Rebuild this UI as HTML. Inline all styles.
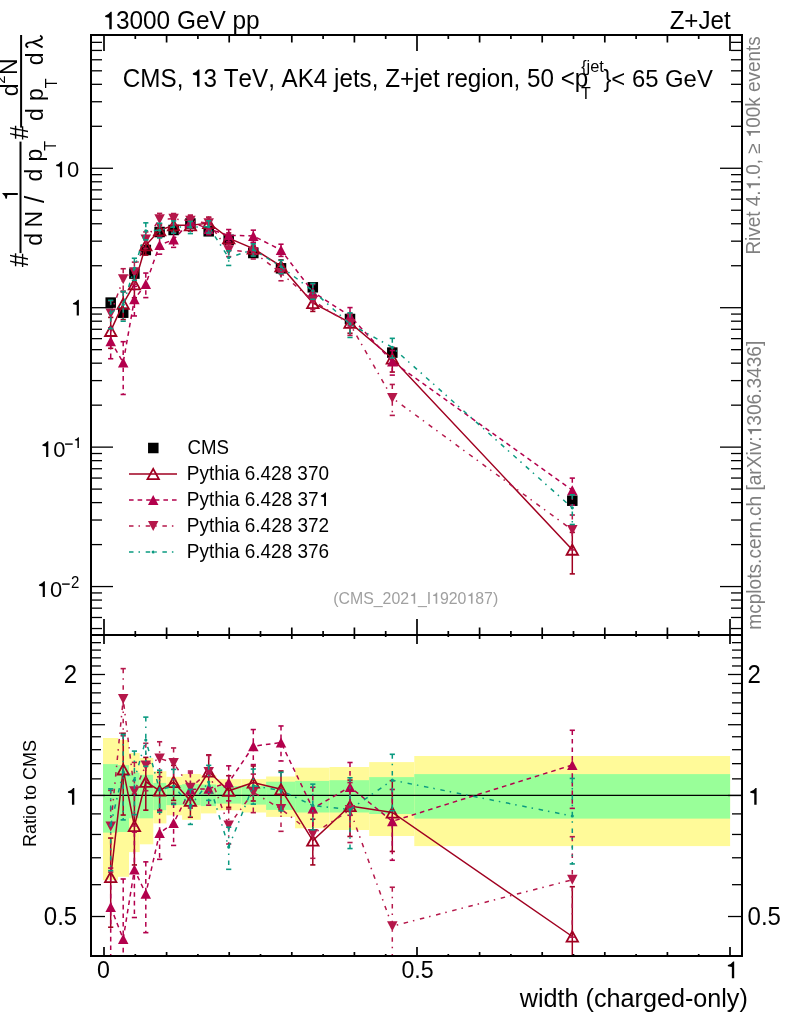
<!DOCTYPE html>
<html><head><meta charset="utf-8"><style>
html,body{margin:0;padding:0;background:#fff;}
svg{display:block;will-change:transform;font-family:"Liberation Sans",sans-serif;font-kerning:none;font-feature-settings:"kern" 0,"liga" 0;}
</style></head><body>
<svg width="786" height="1024" viewBox="0 0 786 1024">
<rect width="786" height="1024" fill="#fff"/>
<rect x="103.00" y="738.00" width="15.00" height="142.20" fill="#fffa99"/>
<rect x="103.00" y="764.10" width="15.00" height="68.50" fill="#99ff99"/>
<rect x="118.00" y="740.00" width="11.00" height="136.80" fill="#fffa99"/>
<rect x="118.00" y="765.10" width="11.00" height="66.90" fill="#99ff99"/>
<rect x="129.00" y="752.90" width="10.70" height="99.20" fill="#fffa99"/>
<rect x="129.00" y="772.70" width="10.70" height="45.60" fill="#99ff99"/>
<rect x="139.70" y="758.00" width="13.60" height="86.30" fill="#fffa99"/>
<rect x="139.70" y="774.80" width="13.60" height="43.50" fill="#99ff99"/>
<rect x="153.30" y="771.20" width="13.10" height="52.20" fill="#fffa99"/>
<rect x="153.30" y="782.90" width="13.10" height="27.30" fill="#99ff99"/>
<rect x="166.40" y="776.80" width="15.70" height="38.50" fill="#fffa99"/>
<rect x="166.40" y="785.00" width="15.70" height="20.10" fill="#99ff99"/>
<rect x="182.10" y="774.00" width="18.70" height="45.80" fill="#fffa99"/>
<rect x="182.10" y="784.20" width="18.70" height="21.00" fill="#99ff99"/>
<rect x="200.80" y="775.30" width="15.60" height="38.10" fill="#fffa99"/>
<rect x="200.80" y="784.50" width="15.60" height="21.60" fill="#99ff99"/>
<rect x="216.40" y="779.10" width="25.10" height="31.20" fill="#fffa99"/>
<rect x="216.40" y="786.10" width="25.10" height="17.50" fill="#99ff99"/>
<rect x="241.50" y="779.10" width="24.60" height="33.40" fill="#fffa99"/>
<rect x="241.50" y="786.10" width="24.60" height="18.50" fill="#99ff99"/>
<rect x="266.10" y="776.50" width="29.00" height="40.40" fill="#fffa99"/>
<rect x="266.10" y="781.70" width="29.00" height="28.20" fill="#99ff99"/>
<rect x="295.10" y="767.70" width="34.40" height="60.60" fill="#fffa99"/>
<rect x="295.10" y="780.90" width="34.40" height="31.60" fill="#99ff99"/>
<rect x="329.50" y="767.00" width="39.70" height="63.00" fill="#fffa99"/>
<rect x="329.50" y="780.20" width="39.70" height="32.30" fill="#99ff99"/>
<rect x="369.20" y="762.10" width="45.10" height="73.90" fill="#fffa99"/>
<rect x="369.20" y="777.10" width="45.10" height="36.90" fill="#99ff99"/>
<rect x="414.30" y="756.00" width="315.80" height="90.10" fill="#fffa99"/>
<rect x="414.30" y="774.10" width="315.80" height="44.50" fill="#99ff99"/>
<line x1="91" y1="795.4" x2="742" y2="795.4" stroke="#000" stroke-width="1.4"/>
<defs><clipPath id="cm"><rect x="92" y="36" width="649" height="598"/></clipPath><clipPath id="cr"><rect x="92" y="636" width="649" height="319"/></clipPath></defs>
<g clip-path="url(#cr)">
<polyline points="110.70,877.00 123.20,769.40 134.40,826.00 145.80,781.80 159.60,790.60 173.60,782.00 190.40,800.80 208.70,771.50 228.70,790.80 253.30,782.60 281.00,789.20 312.80,840.60 350.00,806.00 392.30,812.50 572.30,936.50" fill="none" stroke="#a00020" stroke-width="1.5" />
<line x1="110.70" y1="838.04" x2="110.70" y2="927.23" stroke="#a00020" stroke-width="1.5" />
<line x1="108.10" y1="838.04" x2="113.30" y2="838.04" stroke="#a00020" stroke-width="1.6"/>
<line x1="108.10" y1="927.23" x2="113.30" y2="927.23" stroke="#a00020" stroke-width="1.6"/>
<line x1="123.20" y1="733.26" x2="123.20" y2="815.03" stroke="#a00020" stroke-width="1.5" />
<line x1="120.60" y1="733.26" x2="125.80" y2="733.26" stroke="#a00020" stroke-width="1.6"/>
<line x1="120.60" y1="815.03" x2="125.80" y2="815.03" stroke="#a00020" stroke-width="1.6"/>
<line x1="134.40" y1="794.17" x2="134.40" y2="864.96" stroke="#a00020" stroke-width="1.5" />
<line x1="131.80" y1="794.17" x2="137.00" y2="794.17" stroke="#a00020" stroke-width="1.6"/>
<line x1="131.80" y1="864.96" x2="137.00" y2="864.96" stroke="#a00020" stroke-width="1.6"/>
<line x1="145.80" y1="757.40" x2="145.80" y2="810.17" stroke="#a00020" stroke-width="1.5" />
<line x1="143.20" y1="757.40" x2="148.40" y2="757.40" stroke="#a00020" stroke-width="1.6"/>
<line x1="143.20" y1="810.17" x2="148.40" y2="810.17" stroke="#a00020" stroke-width="1.6"/>
<line x1="159.60" y1="772.38" x2="159.60" y2="810.95" stroke="#a00020" stroke-width="1.5" />
<line x1="157.00" y1="772.38" x2="162.20" y2="772.38" stroke="#a00020" stroke-width="1.6"/>
<line x1="157.00" y1="810.95" x2="162.20" y2="810.95" stroke="#a00020" stroke-width="1.6"/>
<line x1="173.60" y1="765.36" x2="173.60" y2="800.39" stroke="#a00020" stroke-width="1.5" />
<line x1="171.00" y1="765.36" x2="176.20" y2="765.36" stroke="#a00020" stroke-width="1.6"/>
<line x1="171.00" y1="800.39" x2="176.20" y2="800.39" stroke="#a00020" stroke-width="1.6"/>
<line x1="190.40" y1="785.75" x2="190.40" y2="817.27" stroke="#a00020" stroke-width="1.5" />
<line x1="187.80" y1="785.75" x2="193.00" y2="785.75" stroke="#a00020" stroke-width="1.6"/>
<line x1="187.80" y1="817.27" x2="193.00" y2="817.27" stroke="#a00020" stroke-width="1.6"/>
<line x1="208.70" y1="754.86" x2="208.70" y2="789.89" stroke="#a00020" stroke-width="1.5" />
<line x1="206.10" y1="754.86" x2="211.30" y2="754.86" stroke="#a00020" stroke-width="1.6"/>
<line x1="206.10" y1="789.89" x2="211.30" y2="789.89" stroke="#a00020" stroke-width="1.6"/>
<line x1="228.70" y1="775.75" x2="228.70" y2="807.27" stroke="#a00020" stroke-width="1.5" />
<line x1="226.10" y1="775.75" x2="231.30" y2="775.75" stroke="#a00020" stroke-width="1.6"/>
<line x1="226.10" y1="807.27" x2="231.30" y2="807.27" stroke="#a00020" stroke-width="1.6"/>
<line x1="253.30" y1="765.96" x2="253.30" y2="800.99" stroke="#a00020" stroke-width="1.5" />
<line x1="250.70" y1="765.96" x2="255.90" y2="765.96" stroke="#a00020" stroke-width="1.6"/>
<line x1="250.70" y1="800.99" x2="255.90" y2="800.99" stroke="#a00020" stroke-width="1.6"/>
<line x1="281.00" y1="770.98" x2="281.00" y2="809.55" stroke="#a00020" stroke-width="1.5" />
<line x1="278.40" y1="770.98" x2="283.60" y2="770.98" stroke="#a00020" stroke-width="1.6"/>
<line x1="278.40" y1="809.55" x2="283.60" y2="809.55" stroke="#a00020" stroke-width="1.6"/>
<line x1="312.80" y1="819.26" x2="312.80" y2="864.91" stroke="#a00020" stroke-width="1.5" />
<line x1="310.20" y1="819.26" x2="315.40" y2="819.26" stroke="#a00020" stroke-width="1.6"/>
<line x1="310.20" y1="864.91" x2="315.40" y2="864.91" stroke="#a00020" stroke-width="1.6"/>
<line x1="350.00" y1="780.09" x2="350.00" y2="836.44" stroke="#a00020" stroke-width="1.5" />
<line x1="347.40" y1="780.09" x2="352.60" y2="780.09" stroke="#a00020" stroke-width="1.6"/>
<line x1="347.40" y1="836.44" x2="352.60" y2="836.44" stroke="#a00020" stroke-width="1.6"/>
<line x1="392.30" y1="780.67" x2="392.30" y2="851.46" stroke="#a00020" stroke-width="1.5" />
<line x1="389.70" y1="780.67" x2="394.90" y2="780.67" stroke="#a00020" stroke-width="1.6"/>
<line x1="389.70" y1="851.46" x2="394.90" y2="851.46" stroke="#a00020" stroke-width="1.6"/>
<line x1="572.30" y1="886.71" x2="572.30" y2="1006.42" stroke="#a00020" stroke-width="1.5" />
<line x1="569.70" y1="886.71" x2="574.90" y2="886.71" stroke="#a00020" stroke-width="1.6"/>
<line x1="569.70" y1="1006.42" x2="574.90" y2="1006.42" stroke="#a00020" stroke-width="1.6"/>
<path d="M105.00 882.10 L116.40 882.10 L110.70 871.90 Z" fill="none" stroke="#a00020" stroke-width="1.8" stroke-linejoin="miter"/>
<path d="M117.50 774.50 L128.90 774.50 L123.20 764.30 Z" fill="none" stroke="#a00020" stroke-width="1.8" stroke-linejoin="miter"/>
<path d="M128.70 831.10 L140.10 831.10 L134.40 820.90 Z" fill="none" stroke="#a00020" stroke-width="1.8" stroke-linejoin="miter"/>
<path d="M140.10 786.90 L151.50 786.90 L145.80 776.70 Z" fill="none" stroke="#a00020" stroke-width="1.8" stroke-linejoin="miter"/>
<path d="M153.90 795.70 L165.30 795.70 L159.60 785.50 Z" fill="none" stroke="#a00020" stroke-width="1.8" stroke-linejoin="miter"/>
<path d="M167.90 787.10 L179.30 787.10 L173.60 776.90 Z" fill="none" stroke="#a00020" stroke-width="1.8" stroke-linejoin="miter"/>
<path d="M184.70 805.90 L196.10 805.90 L190.40 795.70 Z" fill="none" stroke="#a00020" stroke-width="1.8" stroke-linejoin="miter"/>
<path d="M203.00 776.60 L214.40 776.60 L208.70 766.40 Z" fill="none" stroke="#a00020" stroke-width="1.8" stroke-linejoin="miter"/>
<path d="M223.00 795.90 L234.40 795.90 L228.70 785.70 Z" fill="none" stroke="#a00020" stroke-width="1.8" stroke-linejoin="miter"/>
<path d="M247.60 787.70 L259.00 787.70 L253.30 777.50 Z" fill="none" stroke="#a00020" stroke-width="1.8" stroke-linejoin="miter"/>
<path d="M275.30 794.30 L286.70 794.30 L281.00 784.10 Z" fill="none" stroke="#a00020" stroke-width="1.8" stroke-linejoin="miter"/>
<path d="M307.10 845.70 L318.50 845.70 L312.80 835.50 Z" fill="none" stroke="#a00020" stroke-width="1.8" stroke-linejoin="miter"/>
<path d="M344.30 811.10 L355.70 811.10 L350.00 800.90 Z" fill="none" stroke="#a00020" stroke-width="1.8" stroke-linejoin="miter"/>
<path d="M386.60 817.60 L398.00 817.60 L392.30 807.40 Z" fill="none" stroke="#a00020" stroke-width="1.8" stroke-linejoin="miter"/>
<path d="M566.60 941.60 L578.00 941.60 L572.30 931.40 Z" fill="none" stroke="#a00020" stroke-width="1.8" stroke-linejoin="miter"/>
<polyline points="110.70,907.00 123.20,939.00 134.40,869.60 145.80,893.70 159.60,833.00 173.60,823.10 190.40,789.60 208.70,788.70 228.70,782.50 253.30,746.20 281.00,742.60 312.80,808.60 350.00,786.90 392.30,821.30 572.30,765.00" fill="none" stroke="#b3004c" stroke-width="1.5" stroke-dasharray="4.6 4"/>
<line x1="110.70" y1="868.04" x2="110.70" y2="957.23" stroke="#b3004c" stroke-width="1.5" stroke-dasharray="4.6 4"/>
<line x1="108.10" y1="868.04" x2="113.30" y2="868.04" stroke="#b3004c" stroke-width="1.6"/>
<line x1="108.10" y1="957.23" x2="113.30" y2="957.23" stroke="#b3004c" stroke-width="1.6"/>
<line x1="123.20" y1="879.01" x2="123.20" y2="1031.12" stroke="#b3004c" stroke-width="1.5" stroke-dasharray="4.6 4"/>
<line x1="120.60" y1="879.01" x2="125.80" y2="879.01" stroke="#b3004c" stroke-width="1.6"/>
<line x1="120.60" y1="1031.12" x2="125.80" y2="1031.12" stroke="#b3004c" stroke-width="1.6"/>
<line x1="134.40" y1="832.04" x2="134.40" y2="917.51" stroke="#b3004c" stroke-width="1.5" stroke-dasharray="4.6 4"/>
<line x1="131.80" y1="832.04" x2="137.00" y2="832.04" stroke="#b3004c" stroke-width="1.6"/>
<line x1="131.80" y1="917.51" x2="137.00" y2="917.51" stroke="#b3004c" stroke-width="1.6"/>
<line x1="145.80" y1="861.87" x2="145.80" y2="932.66" stroke="#b3004c" stroke-width="1.5" stroke-dasharray="4.6 4"/>
<line x1="143.20" y1="861.87" x2="148.40" y2="861.87" stroke="#b3004c" stroke-width="1.6"/>
<line x1="143.20" y1="932.66" x2="148.40" y2="932.66" stroke="#b3004c" stroke-width="1.6"/>
<line x1="159.60" y1="810.12" x2="159.60" y2="859.33" stroke="#b3004c" stroke-width="1.5" stroke-dasharray="4.6 4"/>
<line x1="157.00" y1="810.12" x2="162.20" y2="810.12" stroke="#b3004c" stroke-width="1.6"/>
<line x1="157.00" y1="859.33" x2="162.20" y2="859.33" stroke="#b3004c" stroke-width="1.6"/>
<line x1="173.60" y1="803.31" x2="173.60" y2="845.42" stroke="#b3004c" stroke-width="1.5" stroke-dasharray="4.6 4"/>
<line x1="171.00" y1="803.31" x2="176.20" y2="803.31" stroke="#b3004c" stroke-width="1.6"/>
<line x1="171.00" y1="845.42" x2="176.20" y2="845.42" stroke="#b3004c" stroke-width="1.6"/>
<line x1="190.40" y1="772.96" x2="190.40" y2="807.99" stroke="#b3004c" stroke-width="1.5" stroke-dasharray="4.6 4"/>
<line x1="187.80" y1="772.96" x2="193.00" y2="772.96" stroke="#b3004c" stroke-width="1.6"/>
<line x1="187.80" y1="807.99" x2="193.00" y2="807.99" stroke="#b3004c" stroke-width="1.6"/>
<line x1="208.70" y1="773.65" x2="208.70" y2="805.17" stroke="#b3004c" stroke-width="1.5" stroke-dasharray="4.6 4"/>
<line x1="206.10" y1="773.65" x2="211.30" y2="773.65" stroke="#b3004c" stroke-width="1.6"/>
<line x1="206.10" y1="805.17" x2="211.30" y2="805.17" stroke="#b3004c" stroke-width="1.6"/>
<line x1="228.70" y1="765.86" x2="228.70" y2="800.89" stroke="#b3004c" stroke-width="1.5" stroke-dasharray="4.6 4"/>
<line x1="226.10" y1="765.86" x2="231.30" y2="765.86" stroke="#b3004c" stroke-width="1.6"/>
<line x1="226.10" y1="800.89" x2="231.30" y2="800.89" stroke="#b3004c" stroke-width="1.6"/>
<line x1="253.30" y1="729.56" x2="253.30" y2="764.59" stroke="#b3004c" stroke-width="1.5" stroke-dasharray="4.6 4"/>
<line x1="250.70" y1="729.56" x2="255.90" y2="729.56" stroke="#b3004c" stroke-width="1.6"/>
<line x1="250.70" y1="764.59" x2="255.90" y2="764.59" stroke="#b3004c" stroke-width="1.6"/>
<line x1="281.00" y1="725.96" x2="281.00" y2="760.99" stroke="#b3004c" stroke-width="1.5" stroke-dasharray="4.6 4"/>
<line x1="278.40" y1="725.96" x2="283.60" y2="725.96" stroke="#b3004c" stroke-width="1.6"/>
<line x1="278.40" y1="760.99" x2="283.60" y2="760.99" stroke="#b3004c" stroke-width="1.6"/>
<line x1="312.80" y1="787.26" x2="312.80" y2="832.91" stroke="#b3004c" stroke-width="1.5" stroke-dasharray="4.6 4"/>
<line x1="310.20" y1="787.26" x2="315.40" y2="787.26" stroke="#b3004c" stroke-width="1.6"/>
<line x1="310.20" y1="832.91" x2="315.40" y2="832.91" stroke="#b3004c" stroke-width="1.6"/>
<line x1="350.00" y1="762.50" x2="350.00" y2="815.27" stroke="#b3004c" stroke-width="1.5" stroke-dasharray="4.6 4"/>
<line x1="347.40" y1="762.50" x2="352.60" y2="762.50" stroke="#b3004c" stroke-width="1.6"/>
<line x1="347.40" y1="815.27" x2="352.60" y2="815.27" stroke="#b3004c" stroke-width="1.6"/>
<line x1="392.30" y1="789.47" x2="392.30" y2="860.26" stroke="#b3004c" stroke-width="1.5" stroke-dasharray="4.6 4"/>
<line x1="389.70" y1="789.47" x2="394.90" y2="789.47" stroke="#b3004c" stroke-width="1.6"/>
<line x1="389.70" y1="860.26" x2="394.90" y2="860.26" stroke="#b3004c" stroke-width="1.6"/>
<line x1="572.30" y1="730.28" x2="572.30" y2="808.38" stroke="#b3004c" stroke-width="1.5" stroke-dasharray="4.6 4"/>
<line x1="569.70" y1="730.28" x2="574.90" y2="730.28" stroke="#b3004c" stroke-width="1.6"/>
<line x1="569.70" y1="808.38" x2="574.90" y2="808.38" stroke="#b3004c" stroke-width="1.6"/>
<path d="M105.45 912.00 L115.95 912.00 L110.70 902.00 Z" fill="#b3004c"/>
<path d="M117.95 944.00 L128.45 944.00 L123.20 934.00 Z" fill="#b3004c"/>
<path d="M129.15 874.60 L139.65 874.60 L134.40 864.60 Z" fill="#b3004c"/>
<path d="M140.55 898.70 L151.05 898.70 L145.80 888.70 Z" fill="#b3004c"/>
<path d="M154.35 838.00 L164.85 838.00 L159.60 828.00 Z" fill="#b3004c"/>
<path d="M168.35 828.10 L178.85 828.10 L173.60 818.10 Z" fill="#b3004c"/>
<path d="M185.15 794.60 L195.65 794.60 L190.40 784.60 Z" fill="#b3004c"/>
<path d="M203.45 793.70 L213.95 793.70 L208.70 783.70 Z" fill="#b3004c"/>
<path d="M223.45 787.50 L233.95 787.50 L228.70 777.50 Z" fill="#b3004c"/>
<path d="M248.05 751.20 L258.55 751.20 L253.30 741.20 Z" fill="#b3004c"/>
<path d="M275.75 747.60 L286.25 747.60 L281.00 737.60 Z" fill="#b3004c"/>
<path d="M307.55 813.60 L318.05 813.60 L312.80 803.60 Z" fill="#b3004c"/>
<path d="M344.75 791.90 L355.25 791.90 L350.00 781.90 Z" fill="#b3004c"/>
<path d="M387.05 826.30 L397.55 826.30 L392.30 816.30 Z" fill="#b3004c"/>
<path d="M567.05 770.00 L577.55 770.00 L572.30 760.00 Z" fill="#b3004c"/>
<polyline points="110.70,826.50 123.20,699.00 134.40,791.30 145.80,765.40 159.60,758.40 173.60,763.00 190.40,787.70 208.70,772.00 228.70,825.60 253.30,792.30 281.00,809.00 312.80,834.00 350.00,810.00 392.30,926.20 572.30,879.80" fill="none" stroke="#b5174a" stroke-width="1.5" stroke-dasharray="4.5 5 1.5 5.7"/>
<line x1="110.70" y1="790.36" x2="110.70" y2="872.13" stroke="#b5174a" stroke-width="1.5" stroke-dasharray="4.5 5 1.5 5.7"/>
<line x1="108.10" y1="790.36" x2="113.30" y2="790.36" stroke="#b5174a" stroke-width="1.6"/>
<line x1="108.10" y1="872.13" x2="113.30" y2="872.13" stroke="#b5174a" stroke-width="1.6"/>
<line x1="123.20" y1="668.63" x2="123.20" y2="735.79" stroke="#b5174a" stroke-width="1.5" stroke-dasharray="4.5 5 1.5 5.7"/>
<line x1="120.60" y1="668.63" x2="125.80" y2="668.63" stroke="#b5174a" stroke-width="1.6"/>
<line x1="120.60" y1="735.79" x2="125.80" y2="735.79" stroke="#b5174a" stroke-width="1.6"/>
<line x1="134.40" y1="762.40" x2="134.40" y2="825.95" stroke="#b5174a" stroke-width="1.5" stroke-dasharray="4.5 5 1.5 5.7"/>
<line x1="131.80" y1="762.40" x2="137.00" y2="762.40" stroke="#b5174a" stroke-width="1.6"/>
<line x1="131.80" y1="825.95" x2="137.00" y2="825.95" stroke="#b5174a" stroke-width="1.6"/>
<line x1="145.80" y1="743.29" x2="145.80" y2="790.72" stroke="#b5174a" stroke-width="1.5" stroke-dasharray="4.5 5 1.5 5.7"/>
<line x1="143.20" y1="743.29" x2="148.40" y2="743.29" stroke="#b5174a" stroke-width="1.6"/>
<line x1="143.20" y1="790.72" x2="148.40" y2="790.72" stroke="#b5174a" stroke-width="1.6"/>
<line x1="159.60" y1="741.76" x2="159.60" y2="776.79" stroke="#b5174a" stroke-width="1.5" stroke-dasharray="4.5 5 1.5 5.7"/>
<line x1="157.00" y1="741.76" x2="162.20" y2="741.76" stroke="#b5174a" stroke-width="1.6"/>
<line x1="157.00" y1="776.79" x2="162.20" y2="776.79" stroke="#b5174a" stroke-width="1.6"/>
<line x1="173.60" y1="747.95" x2="173.60" y2="779.47" stroke="#b5174a" stroke-width="1.5" stroke-dasharray="4.5 5 1.5 5.7"/>
<line x1="171.00" y1="747.95" x2="176.20" y2="747.95" stroke="#b5174a" stroke-width="1.6"/>
<line x1="171.00" y1="779.47" x2="176.20" y2="779.47" stroke="#b5174a" stroke-width="1.6"/>
<line x1="190.40" y1="771.06" x2="190.40" y2="806.09" stroke="#b5174a" stroke-width="1.5" stroke-dasharray="4.5 5 1.5 5.7"/>
<line x1="187.80" y1="771.06" x2="193.00" y2="771.06" stroke="#b5174a" stroke-width="1.6"/>
<line x1="187.80" y1="806.09" x2="193.00" y2="806.09" stroke="#b5174a" stroke-width="1.6"/>
<line x1="208.70" y1="755.36" x2="208.70" y2="790.39" stroke="#b5174a" stroke-width="1.5" stroke-dasharray="4.5 5 1.5 5.7"/>
<line x1="206.10" y1="755.36" x2="211.30" y2="755.36" stroke="#b5174a" stroke-width="1.6"/>
<line x1="206.10" y1="790.39" x2="211.30" y2="790.39" stroke="#b5174a" stroke-width="1.6"/>
<line x1="228.70" y1="808.96" x2="228.70" y2="843.99" stroke="#b5174a" stroke-width="1.5" stroke-dasharray="4.5 5 1.5 5.7"/>
<line x1="226.10" y1="808.96" x2="231.30" y2="808.96" stroke="#b5174a" stroke-width="1.6"/>
<line x1="226.10" y1="843.99" x2="231.30" y2="843.99" stroke="#b5174a" stroke-width="1.6"/>
<line x1="253.30" y1="774.08" x2="253.30" y2="812.65" stroke="#b5174a" stroke-width="1.5" stroke-dasharray="4.5 5 1.5 5.7"/>
<line x1="250.70" y1="774.08" x2="255.90" y2="774.08" stroke="#b5174a" stroke-width="1.6"/>
<line x1="250.70" y1="812.65" x2="255.90" y2="812.65" stroke="#b5174a" stroke-width="1.6"/>
<line x1="281.00" y1="789.21" x2="281.00" y2="831.32" stroke="#b5174a" stroke-width="1.5" stroke-dasharray="4.5 5 1.5 5.7"/>
<line x1="278.40" y1="789.21" x2="283.60" y2="789.21" stroke="#b5174a" stroke-width="1.6"/>
<line x1="278.40" y1="831.32" x2="283.60" y2="831.32" stroke="#b5174a" stroke-width="1.6"/>
<line x1="312.80" y1="812.66" x2="312.80" y2="858.31" stroke="#b5174a" stroke-width="1.5" stroke-dasharray="4.5 5 1.5 5.7"/>
<line x1="310.20" y1="812.66" x2="315.40" y2="812.66" stroke="#b5174a" stroke-width="1.6"/>
<line x1="310.20" y1="858.31" x2="315.40" y2="858.31" stroke="#b5174a" stroke-width="1.6"/>
<line x1="350.00" y1="782.59" x2="350.00" y2="842.53" stroke="#b5174a" stroke-width="1.5" stroke-dasharray="4.5 5 1.5 5.7"/>
<line x1="347.40" y1="782.59" x2="352.60" y2="782.59" stroke="#b5174a" stroke-width="1.6"/>
<line x1="347.40" y1="842.53" x2="352.60" y2="842.53" stroke="#b5174a" stroke-width="1.6"/>
<line x1="392.30" y1="887.24" x2="392.30" y2="976.43" stroke="#b5174a" stroke-width="1.5" stroke-dasharray="4.5 5 1.5 5.7"/>
<line x1="389.70" y1="887.24" x2="394.90" y2="887.24" stroke="#b5174a" stroke-width="1.6"/>
<line x1="389.70" y1="976.43" x2="394.90" y2="976.43" stroke="#b5174a" stroke-width="1.6"/>
<line x1="572.30" y1="836.70" x2="572.30" y2="937.15" stroke="#b5174a" stroke-width="1.5" stroke-dasharray="4.5 5 1.5 5.7"/>
<line x1="569.70" y1="836.70" x2="574.90" y2="836.70" stroke="#b5174a" stroke-width="1.6"/>
<line x1="569.70" y1="937.15" x2="574.90" y2="937.15" stroke="#b5174a" stroke-width="1.6"/>
<path d="M105.45 821.50 L115.95 821.50 L110.70 831.50 Z" fill="#b5174a"/>
<path d="M117.95 694.00 L128.45 694.00 L123.20 704.00 Z" fill="#b5174a"/>
<path d="M129.15 786.30 L139.65 786.30 L134.40 796.30 Z" fill="#b5174a"/>
<path d="M140.55 760.40 L151.05 760.40 L145.80 770.40 Z" fill="#b5174a"/>
<path d="M154.35 753.40 L164.85 753.40 L159.60 763.40 Z" fill="#b5174a"/>
<path d="M168.35 758.00 L178.85 758.00 L173.60 768.00 Z" fill="#b5174a"/>
<path d="M185.15 782.70 L195.65 782.70 L190.40 792.70 Z" fill="#b5174a"/>
<path d="M203.45 767.00 L213.95 767.00 L208.70 777.00 Z" fill="#b5174a"/>
<path d="M223.45 820.60 L233.95 820.60 L228.70 830.60 Z" fill="#b5174a"/>
<path d="M248.05 787.30 L258.55 787.30 L253.30 797.30 Z" fill="#b5174a"/>
<path d="M275.75 804.00 L286.25 804.00 L281.00 814.00 Z" fill="#b5174a"/>
<path d="M307.55 829.00 L318.05 829.00 L312.80 839.00 Z" fill="#b5174a"/>
<path d="M344.75 805.00 L355.25 805.00 L350.00 815.00 Z" fill="#b5174a"/>
<path d="M387.05 921.20 L397.55 921.20 L392.30 931.20 Z" fill="#b5174a"/>
<path d="M567.05 874.80 L577.55 874.80 L572.30 884.80 Z" fill="#b5174a"/>
<polyline points="110.70,825.00 123.20,772.00 134.40,780.00 145.80,740.00 159.60,790.00 173.60,786.00 190.40,806.00 208.70,782.00 228.70,847.00 253.30,785.70 281.00,790.50 312.80,805.50 350.00,809.60 392.30,780.20 572.30,816.00" fill="none" stroke="#0a9a80" stroke-width="1.5" stroke-dasharray="4.5 5 1.5 5.7"/>
<line x1="110.70" y1="788.86" x2="110.70" y2="870.63" stroke="#0a9a80" stroke-width="1.5" stroke-dasharray="4.5 5 1.5 5.7"/>
<line x1="108.10" y1="788.86" x2="113.30" y2="788.86" stroke="#0a9a80" stroke-width="1.6"/>
<line x1="108.10" y1="870.63" x2="113.30" y2="870.63" stroke="#0a9a80" stroke-width="1.6"/>
<line x1="123.20" y1="734.44" x2="123.20" y2="819.91" stroke="#0a9a80" stroke-width="1.5" stroke-dasharray="4.5 5 1.5 5.7"/>
<line x1="120.60" y1="734.44" x2="125.80" y2="734.44" stroke="#0a9a80" stroke-width="1.6"/>
<line x1="120.60" y1="819.91" x2="125.80" y2="819.91" stroke="#0a9a80" stroke-width="1.6"/>
<line x1="134.40" y1="751.10" x2="134.40" y2="814.65" stroke="#0a9a80" stroke-width="1.5" stroke-dasharray="4.5 5 1.5 5.7"/>
<line x1="131.80" y1="751.10" x2="137.00" y2="751.10" stroke="#0a9a80" stroke-width="1.6"/>
<line x1="131.80" y1="814.65" x2="137.00" y2="814.65" stroke="#0a9a80" stroke-width="1.6"/>
<line x1="145.80" y1="717.12" x2="145.80" y2="766.33" stroke="#0a9a80" stroke-width="1.5" stroke-dasharray="4.5 5 1.5 5.7"/>
<line x1="143.20" y1="717.12" x2="148.40" y2="717.12" stroke="#0a9a80" stroke-width="1.6"/>
<line x1="143.20" y1="766.33" x2="148.40" y2="766.33" stroke="#0a9a80" stroke-width="1.6"/>
<line x1="159.60" y1="770.21" x2="159.60" y2="812.32" stroke="#0a9a80" stroke-width="1.5" stroke-dasharray="4.5 5 1.5 5.7"/>
<line x1="157.00" y1="770.21" x2="162.20" y2="770.21" stroke="#0a9a80" stroke-width="1.6"/>
<line x1="157.00" y1="812.32" x2="162.20" y2="812.32" stroke="#0a9a80" stroke-width="1.6"/>
<line x1="173.60" y1="769.36" x2="173.60" y2="804.39" stroke="#0a9a80" stroke-width="1.5" stroke-dasharray="4.5 5 1.5 5.7"/>
<line x1="171.00" y1="769.36" x2="176.20" y2="769.36" stroke="#0a9a80" stroke-width="1.6"/>
<line x1="171.00" y1="804.39" x2="176.20" y2="804.39" stroke="#0a9a80" stroke-width="1.6"/>
<line x1="190.40" y1="789.36" x2="190.40" y2="824.39" stroke="#0a9a80" stroke-width="1.5" stroke-dasharray="4.5 5 1.5 5.7"/>
<line x1="187.80" y1="789.36" x2="193.00" y2="789.36" stroke="#0a9a80" stroke-width="1.6"/>
<line x1="187.80" y1="824.39" x2="193.00" y2="824.39" stroke="#0a9a80" stroke-width="1.6"/>
<line x1="208.70" y1="765.36" x2="208.70" y2="800.39" stroke="#0a9a80" stroke-width="1.5" stroke-dasharray="4.5 5 1.5 5.7"/>
<line x1="206.10" y1="765.36" x2="211.30" y2="765.36" stroke="#0a9a80" stroke-width="1.6"/>
<line x1="206.10" y1="800.39" x2="211.30" y2="800.39" stroke="#0a9a80" stroke-width="1.6"/>
<line x1="228.70" y1="827.21" x2="228.70" y2="869.32" stroke="#0a9a80" stroke-width="1.5" stroke-dasharray="4.5 5 1.5 5.7"/>
<line x1="226.10" y1="827.21" x2="231.30" y2="827.21" stroke="#0a9a80" stroke-width="1.6"/>
<line x1="226.10" y1="869.32" x2="231.30" y2="869.32" stroke="#0a9a80" stroke-width="1.6"/>
<line x1="253.30" y1="769.06" x2="253.30" y2="804.09" stroke="#0a9a80" stroke-width="1.5" stroke-dasharray="4.5 5 1.5 5.7"/>
<line x1="250.70" y1="769.06" x2="255.90" y2="769.06" stroke="#0a9a80" stroke-width="1.6"/>
<line x1="250.70" y1="804.09" x2="255.90" y2="804.09" stroke="#0a9a80" stroke-width="1.6"/>
<line x1="281.00" y1="772.28" x2="281.00" y2="810.85" stroke="#0a9a80" stroke-width="1.5" stroke-dasharray="4.5 5 1.5 5.7"/>
<line x1="278.40" y1="772.28" x2="283.60" y2="772.28" stroke="#0a9a80" stroke-width="1.6"/>
<line x1="278.40" y1="810.85" x2="283.60" y2="810.85" stroke="#0a9a80" stroke-width="1.6"/>
<line x1="312.80" y1="784.16" x2="312.80" y2="829.81" stroke="#0a9a80" stroke-width="1.5" stroke-dasharray="4.5 5 1.5 5.7"/>
<line x1="310.20" y1="784.16" x2="315.40" y2="784.16" stroke="#0a9a80" stroke-width="1.6"/>
<line x1="310.20" y1="829.81" x2="315.40" y2="829.81" stroke="#0a9a80" stroke-width="1.6"/>
<line x1="350.00" y1="777.77" x2="350.00" y2="848.56" stroke="#0a9a80" stroke-width="1.5" stroke-dasharray="4.5 5 1.5 5.7"/>
<line x1="347.40" y1="777.77" x2="352.60" y2="777.77" stroke="#0a9a80" stroke-width="1.6"/>
<line x1="347.40" y1="848.56" x2="352.60" y2="848.56" stroke="#0a9a80" stroke-width="1.6"/>
<line x1="392.30" y1="754.29" x2="392.30" y2="810.64" stroke="#0a9a80" stroke-width="1.5" stroke-dasharray="4.5 5 1.5 5.7"/>
<line x1="389.70" y1="754.29" x2="394.90" y2="754.29" stroke="#0a9a80" stroke-width="1.6"/>
<line x1="389.70" y1="810.64" x2="394.90" y2="810.64" stroke="#0a9a80" stroke-width="1.6"/>
<line x1="572.30" y1="778.44" x2="572.30" y2="863.91" stroke="#0a9a80" stroke-width="1.5" stroke-dasharray="4.5 5 1.5 5.7"/>
<line x1="569.70" y1="778.44" x2="574.90" y2="778.44" stroke="#0a9a80" stroke-width="1.6"/>
<line x1="569.70" y1="863.91" x2="574.90" y2="863.91" stroke="#0a9a80" stroke-width="1.6"/>
<circle cx="110.70" cy="825.00" r="1.6" fill="#0a9a80"/>
<circle cx="123.20" cy="772.00" r="1.6" fill="#0a9a80"/>
<circle cx="134.40" cy="780.00" r="1.6" fill="#0a9a80"/>
<circle cx="145.80" cy="740.00" r="1.6" fill="#0a9a80"/>
<circle cx="159.60" cy="790.00" r="1.6" fill="#0a9a80"/>
<circle cx="173.60" cy="786.00" r="1.6" fill="#0a9a80"/>
<circle cx="190.40" cy="806.00" r="1.6" fill="#0a9a80"/>
<circle cx="208.70" cy="782.00" r="1.6" fill="#0a9a80"/>
<circle cx="228.70" cy="847.00" r="1.6" fill="#0a9a80"/>
<circle cx="253.30" cy="785.70" r="1.6" fill="#0a9a80"/>
<circle cx="281.00" cy="790.50" r="1.6" fill="#0a9a80"/>
<circle cx="312.80" cy="805.50" r="1.6" fill="#0a9a80"/>
<circle cx="350.00" cy="809.60" r="1.6" fill="#0a9a80"/>
<circle cx="392.30" cy="780.20" r="1.6" fill="#0a9a80"/>
<circle cx="572.30" cy="816.00" r="1.6" fill="#0a9a80"/>
</g>
<g clip-path="url(#cm)">
<rect x="105.45" y="297.35" width="10.5" height="10.5" fill="#000"/>
<rect x="117.95" y="307.45" width="10.5" height="10.5" fill="#000"/>
<rect x="129.15" y="268.35" width="10.5" height="10.5" fill="#000"/>
<rect x="140.55" y="244.75" width="10.5" height="10.5" fill="#000"/>
<rect x="154.35" y="226.75" width="10.5" height="10.5" fill="#000"/>
<rect x="168.35" y="224.75" width="10.5" height="10.5" fill="#000"/>
<rect x="185.15" y="218.25" width="10.5" height="10.5" fill="#000"/>
<rect x="203.45" y="226.05" width="10.5" height="10.5" fill="#000"/>
<rect x="223.45" y="234.55" width="10.5" height="10.5" fill="#000"/>
<rect x="248.05" y="247.75" width="10.5" height="10.5" fill="#000"/>
<rect x="275.75" y="263.05" width="10.5" height="10.5" fill="#000"/>
<rect x="307.55" y="282.05" width="10.5" height="10.5" fill="#000"/>
<rect x="344.75" y="313.75" width="10.5" height="10.5" fill="#000"/>
<rect x="387.05" y="347.35" width="10.5" height="10.5" fill="#000"/>
<rect x="567.05" y="495.45" width="10.5" height="10.5" fill="#000"/>
<polyline points="110.70,330.90 123.20,303.68 134.40,284.21 145.80,245.28 159.60,230.34 173.60,225.35 190.40,225.37 208.70,223.01 228.70,238.20 253.30,248.56 281.00,266.15 312.80,302.98 350.00,322.68 392.30,358.53 572.30,549.64" fill="none" stroke="#a00020" stroke-width="1.5" />
<line x1="110.70" y1="317.39" x2="110.70" y2="348.32" stroke="#a00020" stroke-width="1.5" />
<line x1="108.10" y1="317.39" x2="113.30" y2="317.39" stroke="#a00020" stroke-width="1.6"/>
<line x1="108.10" y1="348.32" x2="113.30" y2="348.32" stroke="#a00020" stroke-width="1.6"/>
<line x1="123.20" y1="291.15" x2="123.20" y2="319.51" stroke="#a00020" stroke-width="1.5" />
<line x1="120.60" y1="291.15" x2="125.80" y2="291.15" stroke="#a00020" stroke-width="1.6"/>
<line x1="120.60" y1="319.51" x2="125.80" y2="319.51" stroke="#a00020" stroke-width="1.6"/>
<line x1="134.40" y1="273.17" x2="134.40" y2="297.73" stroke="#a00020" stroke-width="1.5" />
<line x1="131.80" y1="273.17" x2="137.00" y2="273.17" stroke="#a00020" stroke-width="1.6"/>
<line x1="131.80" y1="297.73" x2="137.00" y2="297.73" stroke="#a00020" stroke-width="1.6"/>
<line x1="145.80" y1="236.82" x2="145.80" y2="255.12" stroke="#a00020" stroke-width="1.5" />
<line x1="143.20" y1="236.82" x2="148.40" y2="236.82" stroke="#a00020" stroke-width="1.6"/>
<line x1="143.20" y1="255.12" x2="148.40" y2="255.12" stroke="#a00020" stroke-width="1.6"/>
<line x1="159.60" y1="224.02" x2="159.60" y2="237.39" stroke="#a00020" stroke-width="1.5" />
<line x1="157.00" y1="224.02" x2="162.20" y2="224.02" stroke="#a00020" stroke-width="1.6"/>
<line x1="157.00" y1="237.39" x2="162.20" y2="237.39" stroke="#a00020" stroke-width="1.6"/>
<line x1="173.60" y1="219.58" x2="173.60" y2="231.73" stroke="#a00020" stroke-width="1.5" />
<line x1="171.00" y1="219.58" x2="176.20" y2="219.58" stroke="#a00020" stroke-width="1.6"/>
<line x1="171.00" y1="231.73" x2="176.20" y2="231.73" stroke="#a00020" stroke-width="1.6"/>
<line x1="190.40" y1="220.15" x2="190.40" y2="231.08" stroke="#a00020" stroke-width="1.5" />
<line x1="187.80" y1="220.15" x2="193.00" y2="220.15" stroke="#a00020" stroke-width="1.6"/>
<line x1="187.80" y1="231.08" x2="193.00" y2="231.08" stroke="#a00020" stroke-width="1.6"/>
<line x1="208.70" y1="217.24" x2="208.70" y2="229.39" stroke="#a00020" stroke-width="1.5" />
<line x1="206.10" y1="217.24" x2="211.30" y2="217.24" stroke="#a00020" stroke-width="1.6"/>
<line x1="206.10" y1="229.39" x2="211.30" y2="229.39" stroke="#a00020" stroke-width="1.6"/>
<line x1="228.70" y1="232.99" x2="228.70" y2="243.92" stroke="#a00020" stroke-width="1.5" />
<line x1="226.10" y1="232.99" x2="231.30" y2="232.99" stroke="#a00020" stroke-width="1.6"/>
<line x1="226.10" y1="243.92" x2="231.30" y2="243.92" stroke="#a00020" stroke-width="1.6"/>
<line x1="253.30" y1="242.79" x2="253.30" y2="254.94" stroke="#a00020" stroke-width="1.5" />
<line x1="250.70" y1="242.79" x2="255.90" y2="242.79" stroke="#a00020" stroke-width="1.6"/>
<line x1="250.70" y1="254.94" x2="255.90" y2="254.94" stroke="#a00020" stroke-width="1.6"/>
<line x1="281.00" y1="259.83" x2="281.00" y2="273.21" stroke="#a00020" stroke-width="1.5" />
<line x1="278.40" y1="259.83" x2="283.60" y2="259.83" stroke="#a00020" stroke-width="1.6"/>
<line x1="278.40" y1="273.21" x2="283.60" y2="273.21" stroke="#a00020" stroke-width="1.6"/>
<line x1="312.80" y1="295.58" x2="312.80" y2="311.41" stroke="#a00020" stroke-width="1.5" />
<line x1="310.20" y1="295.58" x2="315.40" y2="295.58" stroke="#a00020" stroke-width="1.6"/>
<line x1="310.20" y1="311.41" x2="315.40" y2="311.41" stroke="#a00020" stroke-width="1.6"/>
<line x1="350.00" y1="313.69" x2="350.00" y2="333.23" stroke="#a00020" stroke-width="1.5" />
<line x1="347.40" y1="313.69" x2="352.60" y2="313.69" stroke="#a00020" stroke-width="1.6"/>
<line x1="347.40" y1="333.23" x2="352.60" y2="333.23" stroke="#a00020" stroke-width="1.6"/>
<line x1="392.30" y1="347.49" x2="392.30" y2="372.04" stroke="#a00020" stroke-width="1.5" />
<line x1="389.70" y1="347.49" x2="394.90" y2="347.49" stroke="#a00020" stroke-width="1.6"/>
<line x1="389.70" y1="372.04" x2="394.90" y2="372.04" stroke="#a00020" stroke-width="1.6"/>
<line x1="572.30" y1="532.37" x2="572.30" y2="573.89" stroke="#a00020" stroke-width="1.5" />
<line x1="569.70" y1="532.37" x2="574.90" y2="532.37" stroke="#a00020" stroke-width="1.6"/>
<line x1="569.70" y1="573.89" x2="574.90" y2="573.89" stroke="#a00020" stroke-width="1.6"/>
<path d="M105.00 336.00 L116.40 336.00 L110.70 325.80 Z" fill="none" stroke="#a00020" stroke-width="1.8" stroke-linejoin="miter"/>
<path d="M117.50 308.78 L128.90 308.78 L123.20 298.58 Z" fill="none" stroke="#a00020" stroke-width="1.8" stroke-linejoin="miter"/>
<path d="M128.70 289.31 L140.10 289.31 L134.40 279.11 Z" fill="none" stroke="#a00020" stroke-width="1.8" stroke-linejoin="miter"/>
<path d="M140.10 250.38 L151.50 250.38 L145.80 240.18 Z" fill="none" stroke="#a00020" stroke-width="1.8" stroke-linejoin="miter"/>
<path d="M153.90 235.44 L165.30 235.44 L159.60 225.24 Z" fill="none" stroke="#a00020" stroke-width="1.8" stroke-linejoin="miter"/>
<path d="M167.90 230.45 L179.30 230.45 L173.60 220.25 Z" fill="none" stroke="#a00020" stroke-width="1.8" stroke-linejoin="miter"/>
<path d="M184.70 230.47 L196.10 230.47 L190.40 220.27 Z" fill="none" stroke="#a00020" stroke-width="1.8" stroke-linejoin="miter"/>
<path d="M203.00 228.11 L214.40 228.11 L208.70 217.91 Z" fill="none" stroke="#a00020" stroke-width="1.8" stroke-linejoin="miter"/>
<path d="M223.00 243.30 L234.40 243.30 L228.70 233.10 Z" fill="none" stroke="#a00020" stroke-width="1.8" stroke-linejoin="miter"/>
<path d="M247.60 253.66 L259.00 253.66 L253.30 243.46 Z" fill="none" stroke="#a00020" stroke-width="1.8" stroke-linejoin="miter"/>
<path d="M275.30 271.25 L286.70 271.25 L281.00 261.05 Z" fill="none" stroke="#a00020" stroke-width="1.8" stroke-linejoin="miter"/>
<path d="M307.10 308.08 L318.50 308.08 L312.80 297.88 Z" fill="none" stroke="#a00020" stroke-width="1.8" stroke-linejoin="miter"/>
<path d="M344.30 327.78 L355.70 327.78 L350.00 317.58 Z" fill="none" stroke="#a00020" stroke-width="1.8" stroke-linejoin="miter"/>
<path d="M386.60 363.63 L398.00 363.63 L392.30 353.43 Z" fill="none" stroke="#a00020" stroke-width="1.8" stroke-linejoin="miter"/>
<path d="M566.60 554.74 L578.00 554.74 L572.30 544.54 Z" fill="none" stroke="#a00020" stroke-width="1.8" stroke-linejoin="miter"/>
<polyline points="110.70,341.31 123.20,362.51 134.40,299.34 145.80,284.09 159.60,245.04 173.60,239.61 190.40,221.49 208.70,228.98 228.70,235.33 253.30,235.94 281.00,249.99 312.80,291.88 350.00,316.05 392.30,361.58 572.30,490.16" fill="none" stroke="#b3004c" stroke-width="1.5" stroke-dasharray="4.6 4"/>
<line x1="110.70" y1="327.80" x2="110.70" y2="358.73" stroke="#b3004c" stroke-width="1.5" stroke-dasharray="4.6 4"/>
<line x1="108.10" y1="327.80" x2="113.30" y2="327.80" stroke="#b3004c" stroke-width="1.6"/>
<line x1="108.10" y1="358.73" x2="113.30" y2="358.73" stroke="#b3004c" stroke-width="1.6"/>
<line x1="123.20" y1="341.70" x2="123.20" y2="394.46" stroke="#b3004c" stroke-width="1.5" stroke-dasharray="4.6 4"/>
<line x1="120.60" y1="341.70" x2="125.80" y2="341.70" stroke="#b3004c" stroke-width="1.6"/>
<line x1="120.60" y1="394.46" x2="125.80" y2="394.46" stroke="#b3004c" stroke-width="1.6"/>
<line x1="134.40" y1="286.31" x2="134.40" y2="315.95" stroke="#b3004c" stroke-width="1.5" stroke-dasharray="4.6 4"/>
<line x1="131.80" y1="286.31" x2="137.00" y2="286.31" stroke="#b3004c" stroke-width="1.6"/>
<line x1="131.80" y1="315.95" x2="137.00" y2="315.95" stroke="#b3004c" stroke-width="1.6"/>
<line x1="145.80" y1="273.05" x2="145.80" y2="297.61" stroke="#b3004c" stroke-width="1.5" stroke-dasharray="4.6 4"/>
<line x1="143.20" y1="273.05" x2="148.40" y2="273.05" stroke="#b3004c" stroke-width="1.6"/>
<line x1="143.20" y1="297.61" x2="148.40" y2="297.61" stroke="#b3004c" stroke-width="1.6"/>
<line x1="159.60" y1="237.11" x2="159.60" y2="254.17" stroke="#b3004c" stroke-width="1.5" stroke-dasharray="4.6 4"/>
<line x1="157.00" y1="237.11" x2="162.20" y2="237.11" stroke="#b3004c" stroke-width="1.6"/>
<line x1="157.00" y1="254.17" x2="162.20" y2="254.17" stroke="#b3004c" stroke-width="1.6"/>
<line x1="173.60" y1="232.75" x2="173.60" y2="247.35" stroke="#b3004c" stroke-width="1.5" stroke-dasharray="4.6 4"/>
<line x1="171.00" y1="232.75" x2="176.20" y2="232.75" stroke="#b3004c" stroke-width="1.6"/>
<line x1="171.00" y1="247.35" x2="176.20" y2="247.35" stroke="#b3004c" stroke-width="1.6"/>
<line x1="190.40" y1="215.72" x2="190.40" y2="227.87" stroke="#b3004c" stroke-width="1.5" stroke-dasharray="4.6 4"/>
<line x1="187.80" y1="215.72" x2="193.00" y2="215.72" stroke="#b3004c" stroke-width="1.6"/>
<line x1="187.80" y1="227.87" x2="193.00" y2="227.87" stroke="#b3004c" stroke-width="1.6"/>
<line x1="208.70" y1="223.76" x2="208.70" y2="234.69" stroke="#b3004c" stroke-width="1.5" stroke-dasharray="4.6 4"/>
<line x1="206.10" y1="223.76" x2="211.30" y2="223.76" stroke="#b3004c" stroke-width="1.6"/>
<line x1="206.10" y1="234.69" x2="211.30" y2="234.69" stroke="#b3004c" stroke-width="1.6"/>
<line x1="228.70" y1="229.55" x2="228.70" y2="241.71" stroke="#b3004c" stroke-width="1.5" stroke-dasharray="4.6 4"/>
<line x1="226.10" y1="229.55" x2="231.30" y2="229.55" stroke="#b3004c" stroke-width="1.6"/>
<line x1="226.10" y1="241.71" x2="231.30" y2="241.71" stroke="#b3004c" stroke-width="1.6"/>
<line x1="253.30" y1="230.16" x2="253.30" y2="242.32" stroke="#b3004c" stroke-width="1.5" stroke-dasharray="4.6 4"/>
<line x1="250.70" y1="230.16" x2="255.90" y2="230.16" stroke="#b3004c" stroke-width="1.6"/>
<line x1="250.70" y1="242.32" x2="255.90" y2="242.32" stroke="#b3004c" stroke-width="1.6"/>
<line x1="281.00" y1="244.22" x2="281.00" y2="256.37" stroke="#b3004c" stroke-width="1.5" stroke-dasharray="4.6 4"/>
<line x1="278.40" y1="244.22" x2="283.60" y2="244.22" stroke="#b3004c" stroke-width="1.6"/>
<line x1="278.40" y1="256.37" x2="283.60" y2="256.37" stroke="#b3004c" stroke-width="1.6"/>
<line x1="312.80" y1="284.48" x2="312.80" y2="300.31" stroke="#b3004c" stroke-width="1.5" stroke-dasharray="4.6 4"/>
<line x1="310.20" y1="284.48" x2="315.40" y2="284.48" stroke="#b3004c" stroke-width="1.6"/>
<line x1="310.20" y1="300.31" x2="315.40" y2="300.31" stroke="#b3004c" stroke-width="1.6"/>
<line x1="350.00" y1="307.59" x2="350.00" y2="325.89" stroke="#b3004c" stroke-width="1.5" stroke-dasharray="4.6 4"/>
<line x1="347.40" y1="307.59" x2="352.60" y2="307.59" stroke="#b3004c" stroke-width="1.6"/>
<line x1="347.40" y1="325.89" x2="352.60" y2="325.89" stroke="#b3004c" stroke-width="1.6"/>
<line x1="392.30" y1="350.54" x2="392.30" y2="375.10" stroke="#b3004c" stroke-width="1.5" stroke-dasharray="4.6 4"/>
<line x1="389.70" y1="350.54" x2="394.90" y2="350.54" stroke="#b3004c" stroke-width="1.6"/>
<line x1="389.70" y1="375.10" x2="394.90" y2="375.10" stroke="#b3004c" stroke-width="1.6"/>
<line x1="572.30" y1="478.11" x2="572.30" y2="505.20" stroke="#b3004c" stroke-width="1.5" stroke-dasharray="4.6 4"/>
<line x1="569.70" y1="478.11" x2="574.90" y2="478.11" stroke="#b3004c" stroke-width="1.6"/>
<line x1="569.70" y1="505.20" x2="574.90" y2="505.20" stroke="#b3004c" stroke-width="1.6"/>
<path d="M105.45 346.31 L115.95 346.31 L110.70 336.31 Z" fill="#b3004c"/>
<path d="M117.95 367.51 L128.45 367.51 L123.20 357.51 Z" fill="#b3004c"/>
<path d="M129.15 304.34 L139.65 304.34 L134.40 294.34 Z" fill="#b3004c"/>
<path d="M140.55 289.09 L151.05 289.09 L145.80 279.09 Z" fill="#b3004c"/>
<path d="M154.35 250.04 L164.85 250.04 L159.60 240.04 Z" fill="#b3004c"/>
<path d="M168.35 244.61 L178.85 244.61 L173.60 234.61 Z" fill="#b3004c"/>
<path d="M185.15 226.49 L195.65 226.49 L190.40 216.49 Z" fill="#b3004c"/>
<path d="M203.45 233.98 L213.95 233.98 L208.70 223.98 Z" fill="#b3004c"/>
<path d="M223.45 240.33 L233.95 240.33 L228.70 230.33 Z" fill="#b3004c"/>
<path d="M248.05 240.94 L258.55 240.94 L253.30 230.94 Z" fill="#b3004c"/>
<path d="M275.75 254.99 L286.25 254.99 L281.00 244.99 Z" fill="#b3004c"/>
<path d="M307.55 296.88 L318.05 296.88 L312.80 286.88 Z" fill="#b3004c"/>
<path d="M344.75 321.05 L355.25 321.05 L350.00 311.05 Z" fill="#b3004c"/>
<path d="M387.05 366.58 L397.55 366.58 L392.30 356.58 Z" fill="#b3004c"/>
<path d="M567.05 495.16 L577.55 495.16 L572.30 485.16 Z" fill="#b3004c"/>
<polyline points="110.70,313.39 123.20,279.26 134.40,272.18 145.80,239.59 159.60,219.17 173.60,218.76 190.40,220.83 208.70,223.18 228.70,250.27 253.30,251.92 281.00,273.02 312.80,300.69 350.00,324.06 392.30,397.97 572.30,529.97" fill="none" stroke="#b5174a" stroke-width="1.5" stroke-dasharray="4.5 5 1.5 5.7"/>
<line x1="110.70" y1="300.85" x2="110.70" y2="329.21" stroke="#b5174a" stroke-width="1.5" stroke-dasharray="4.5 5 1.5 5.7"/>
<line x1="108.10" y1="300.85" x2="113.30" y2="300.85" stroke="#b5174a" stroke-width="1.6"/>
<line x1="108.10" y1="329.21" x2="113.30" y2="329.21" stroke="#b5174a" stroke-width="1.6"/>
<line x1="123.20" y1="268.73" x2="123.20" y2="292.02" stroke="#b5174a" stroke-width="1.5" stroke-dasharray="4.5 5 1.5 5.7"/>
<line x1="120.60" y1="268.73" x2="125.80" y2="268.73" stroke="#b5174a" stroke-width="1.6"/>
<line x1="120.60" y1="292.02" x2="125.80" y2="292.02" stroke="#b5174a" stroke-width="1.6"/>
<line x1="134.40" y1="262.16" x2="134.40" y2="284.19" stroke="#b5174a" stroke-width="1.5" stroke-dasharray="4.5 5 1.5 5.7"/>
<line x1="131.80" y1="262.16" x2="137.00" y2="262.16" stroke="#b5174a" stroke-width="1.6"/>
<line x1="131.80" y1="284.19" x2="137.00" y2="284.19" stroke="#b5174a" stroke-width="1.6"/>
<line x1="145.80" y1="231.93" x2="145.80" y2="248.38" stroke="#b5174a" stroke-width="1.5" stroke-dasharray="4.5 5 1.5 5.7"/>
<line x1="143.20" y1="231.93" x2="148.40" y2="231.93" stroke="#b5174a" stroke-width="1.6"/>
<line x1="143.20" y1="248.38" x2="148.40" y2="248.38" stroke="#b5174a" stroke-width="1.6"/>
<line x1="159.60" y1="213.40" x2="159.60" y2="225.55" stroke="#b5174a" stroke-width="1.5" stroke-dasharray="4.5 5 1.5 5.7"/>
<line x1="157.00" y1="213.40" x2="162.20" y2="213.40" stroke="#b5174a" stroke-width="1.6"/>
<line x1="157.00" y1="225.55" x2="162.20" y2="225.55" stroke="#b5174a" stroke-width="1.6"/>
<line x1="173.60" y1="213.54" x2="173.60" y2="224.47" stroke="#b5174a" stroke-width="1.5" stroke-dasharray="4.5 5 1.5 5.7"/>
<line x1="171.00" y1="213.54" x2="176.20" y2="213.54" stroke="#b5174a" stroke-width="1.6"/>
<line x1="171.00" y1="224.47" x2="176.20" y2="224.47" stroke="#b5174a" stroke-width="1.6"/>
<line x1="190.40" y1="215.06" x2="190.40" y2="227.21" stroke="#b5174a" stroke-width="1.5" stroke-dasharray="4.5 5 1.5 5.7"/>
<line x1="187.80" y1="215.06" x2="193.00" y2="215.06" stroke="#b5174a" stroke-width="1.6"/>
<line x1="187.80" y1="227.21" x2="193.00" y2="227.21" stroke="#b5174a" stroke-width="1.6"/>
<line x1="208.70" y1="217.41" x2="208.70" y2="229.56" stroke="#b5174a" stroke-width="1.5" stroke-dasharray="4.5 5 1.5 5.7"/>
<line x1="206.10" y1="217.41" x2="211.30" y2="217.41" stroke="#b5174a" stroke-width="1.6"/>
<line x1="206.10" y1="229.56" x2="211.30" y2="229.56" stroke="#b5174a" stroke-width="1.6"/>
<line x1="228.70" y1="244.50" x2="228.70" y2="256.65" stroke="#b5174a" stroke-width="1.5" stroke-dasharray="4.5 5 1.5 5.7"/>
<line x1="226.10" y1="244.50" x2="231.30" y2="244.50" stroke="#b5174a" stroke-width="1.6"/>
<line x1="226.10" y1="256.65" x2="231.30" y2="256.65" stroke="#b5174a" stroke-width="1.6"/>
<line x1="253.30" y1="245.61" x2="253.30" y2="258.98" stroke="#b5174a" stroke-width="1.5" stroke-dasharray="4.5 5 1.5 5.7"/>
<line x1="250.70" y1="245.61" x2="255.90" y2="245.61" stroke="#b5174a" stroke-width="1.6"/>
<line x1="250.70" y1="258.98" x2="255.90" y2="258.98" stroke="#b5174a" stroke-width="1.6"/>
<line x1="281.00" y1="266.15" x2="281.00" y2="280.76" stroke="#b5174a" stroke-width="1.5" stroke-dasharray="4.5 5 1.5 5.7"/>
<line x1="278.40" y1="266.15" x2="283.60" y2="266.15" stroke="#b5174a" stroke-width="1.6"/>
<line x1="278.40" y1="280.76" x2="283.60" y2="280.76" stroke="#b5174a" stroke-width="1.6"/>
<line x1="312.80" y1="293.29" x2="312.80" y2="309.12" stroke="#b5174a" stroke-width="1.5" stroke-dasharray="4.5 5 1.5 5.7"/>
<line x1="310.20" y1="293.29" x2="315.40" y2="293.29" stroke="#b5174a" stroke-width="1.6"/>
<line x1="310.20" y1="309.12" x2="315.40" y2="309.12" stroke="#b5174a" stroke-width="1.6"/>
<line x1="350.00" y1="314.56" x2="350.00" y2="335.35" stroke="#b5174a" stroke-width="1.5" stroke-dasharray="4.5 5 1.5 5.7"/>
<line x1="347.40" y1="314.56" x2="352.60" y2="314.56" stroke="#b5174a" stroke-width="1.6"/>
<line x1="347.40" y1="335.35" x2="352.60" y2="335.35" stroke="#b5174a" stroke-width="1.6"/>
<line x1="392.30" y1="384.45" x2="392.30" y2="415.39" stroke="#b5174a" stroke-width="1.5" stroke-dasharray="4.5 5 1.5 5.7"/>
<line x1="389.70" y1="384.45" x2="394.90" y2="384.45" stroke="#b5174a" stroke-width="1.6"/>
<line x1="389.70" y1="415.39" x2="394.90" y2="415.39" stroke="#b5174a" stroke-width="1.6"/>
<line x1="572.30" y1="515.03" x2="572.30" y2="549.87" stroke="#b5174a" stroke-width="1.5" stroke-dasharray="4.5 5 1.5 5.7"/>
<line x1="569.70" y1="515.03" x2="574.90" y2="515.03" stroke="#b5174a" stroke-width="1.6"/>
<line x1="569.70" y1="549.87" x2="574.90" y2="549.87" stroke="#b5174a" stroke-width="1.6"/>
<path d="M105.45 308.39 L115.95 308.39 L110.70 318.39 Z" fill="#b5174a"/>
<path d="M117.95 274.26 L128.45 274.26 L123.20 284.26 Z" fill="#b5174a"/>
<path d="M129.15 267.18 L139.65 267.18 L134.40 277.18 Z" fill="#b5174a"/>
<path d="M140.55 234.59 L151.05 234.59 L145.80 244.59 Z" fill="#b5174a"/>
<path d="M154.35 214.17 L164.85 214.17 L159.60 224.17 Z" fill="#b5174a"/>
<path d="M168.35 213.76 L178.85 213.76 L173.60 223.76 Z" fill="#b5174a"/>
<path d="M185.15 215.83 L195.65 215.83 L190.40 225.83 Z" fill="#b5174a"/>
<path d="M203.45 218.18 L213.95 218.18 L208.70 228.18 Z" fill="#b5174a"/>
<path d="M223.45 245.27 L233.95 245.27 L228.70 255.27 Z" fill="#b5174a"/>
<path d="M248.05 246.92 L258.55 246.92 L253.30 256.92 Z" fill="#b5174a"/>
<path d="M275.75 268.02 L286.25 268.02 L281.00 278.02 Z" fill="#b5174a"/>
<path d="M307.55 295.69 L318.05 295.69 L312.80 305.69 Z" fill="#b5174a"/>
<path d="M344.75 319.06 L355.25 319.06 L350.00 329.06 Z" fill="#b5174a"/>
<path d="M387.05 392.97 L397.55 392.97 L392.30 402.97 Z" fill="#b5174a"/>
<path d="M567.05 524.97 L577.55 524.97 L572.30 534.97 Z" fill="#b5174a"/>
<polyline points="110.70,312.87 123.20,304.58 134.40,268.26 145.80,230.79 159.60,230.13 173.60,226.74 190.40,227.18 208.70,226.65 228.70,257.70 253.30,249.64 281.00,266.60 312.80,290.80 350.00,323.93 392.30,347.33 572.30,507.84" fill="none" stroke="#0a9a80" stroke-width="1.5" stroke-dasharray="4.5 5 1.5 5.7"/>
<line x1="110.70" y1="300.33" x2="110.70" y2="328.69" stroke="#0a9a80" stroke-width="1.5" stroke-dasharray="4.5 5 1.5 5.7"/>
<line x1="108.10" y1="300.33" x2="113.30" y2="300.33" stroke="#0a9a80" stroke-width="1.6"/>
<line x1="108.10" y1="328.69" x2="113.30" y2="328.69" stroke="#0a9a80" stroke-width="1.6"/>
<line x1="123.20" y1="291.56" x2="123.20" y2="321.20" stroke="#0a9a80" stroke-width="1.5" stroke-dasharray="4.5 5 1.5 5.7"/>
<line x1="120.60" y1="291.56" x2="125.80" y2="291.56" stroke="#0a9a80" stroke-width="1.6"/>
<line x1="120.60" y1="321.20" x2="125.80" y2="321.20" stroke="#0a9a80" stroke-width="1.6"/>
<line x1="134.40" y1="258.24" x2="134.40" y2="280.28" stroke="#0a9a80" stroke-width="1.5" stroke-dasharray="4.5 5 1.5 5.7"/>
<line x1="131.80" y1="258.24" x2="137.00" y2="258.24" stroke="#0a9a80" stroke-width="1.6"/>
<line x1="131.80" y1="280.28" x2="137.00" y2="280.28" stroke="#0a9a80" stroke-width="1.6"/>
<line x1="145.80" y1="222.85" x2="145.80" y2="239.92" stroke="#0a9a80" stroke-width="1.5" stroke-dasharray="4.5 5 1.5 5.7"/>
<line x1="143.20" y1="222.85" x2="148.40" y2="222.85" stroke="#0a9a80" stroke-width="1.6"/>
<line x1="143.20" y1="239.92" x2="148.40" y2="239.92" stroke="#0a9a80" stroke-width="1.6"/>
<line x1="159.60" y1="223.26" x2="159.60" y2="237.87" stroke="#0a9a80" stroke-width="1.5" stroke-dasharray="4.5 5 1.5 5.7"/>
<line x1="157.00" y1="223.26" x2="162.20" y2="223.26" stroke="#0a9a80" stroke-width="1.6"/>
<line x1="157.00" y1="237.87" x2="162.20" y2="237.87" stroke="#0a9a80" stroke-width="1.6"/>
<line x1="173.60" y1="220.97" x2="173.60" y2="233.12" stroke="#0a9a80" stroke-width="1.5" stroke-dasharray="4.5 5 1.5 5.7"/>
<line x1="171.00" y1="220.97" x2="176.20" y2="220.97" stroke="#0a9a80" stroke-width="1.6"/>
<line x1="171.00" y1="233.12" x2="176.20" y2="233.12" stroke="#0a9a80" stroke-width="1.6"/>
<line x1="190.40" y1="221.41" x2="190.40" y2="233.56" stroke="#0a9a80" stroke-width="1.5" stroke-dasharray="4.5 5 1.5 5.7"/>
<line x1="187.80" y1="221.41" x2="193.00" y2="221.41" stroke="#0a9a80" stroke-width="1.6"/>
<line x1="187.80" y1="233.56" x2="193.00" y2="233.56" stroke="#0a9a80" stroke-width="1.6"/>
<line x1="208.70" y1="220.88" x2="208.70" y2="233.03" stroke="#0a9a80" stroke-width="1.5" stroke-dasharray="4.5 5 1.5 5.7"/>
<line x1="206.10" y1="220.88" x2="211.30" y2="220.88" stroke="#0a9a80" stroke-width="1.6"/>
<line x1="206.10" y1="233.03" x2="211.30" y2="233.03" stroke="#0a9a80" stroke-width="1.6"/>
<line x1="228.70" y1="250.83" x2="228.70" y2="265.44" stroke="#0a9a80" stroke-width="1.5" stroke-dasharray="4.5 5 1.5 5.7"/>
<line x1="226.10" y1="250.83" x2="231.30" y2="250.83" stroke="#0a9a80" stroke-width="1.6"/>
<line x1="226.10" y1="265.44" x2="231.30" y2="265.44" stroke="#0a9a80" stroke-width="1.6"/>
<line x1="253.30" y1="243.86" x2="253.30" y2="256.02" stroke="#0a9a80" stroke-width="1.5" stroke-dasharray="4.5 5 1.5 5.7"/>
<line x1="250.70" y1="243.86" x2="255.90" y2="243.86" stroke="#0a9a80" stroke-width="1.6"/>
<line x1="250.70" y1="256.02" x2="255.90" y2="256.02" stroke="#0a9a80" stroke-width="1.6"/>
<line x1="281.00" y1="260.28" x2="281.00" y2="273.66" stroke="#0a9a80" stroke-width="1.5" stroke-dasharray="4.5 5 1.5 5.7"/>
<line x1="278.40" y1="260.28" x2="283.60" y2="260.28" stroke="#0a9a80" stroke-width="1.6"/>
<line x1="278.40" y1="273.66" x2="283.60" y2="273.66" stroke="#0a9a80" stroke-width="1.6"/>
<line x1="312.80" y1="283.40" x2="312.80" y2="299.24" stroke="#0a9a80" stroke-width="1.5" stroke-dasharray="4.5 5 1.5 5.7"/>
<line x1="310.20" y1="283.40" x2="315.40" y2="283.40" stroke="#0a9a80" stroke-width="1.6"/>
<line x1="310.20" y1="299.24" x2="315.40" y2="299.24" stroke="#0a9a80" stroke-width="1.6"/>
<line x1="350.00" y1="312.88" x2="350.00" y2="337.44" stroke="#0a9a80" stroke-width="1.5" stroke-dasharray="4.5 5 1.5 5.7"/>
<line x1="347.40" y1="312.88" x2="352.60" y2="312.88" stroke="#0a9a80" stroke-width="1.6"/>
<line x1="347.40" y1="337.44" x2="352.60" y2="337.44" stroke="#0a9a80" stroke-width="1.6"/>
<line x1="392.30" y1="338.34" x2="392.30" y2="357.89" stroke="#0a9a80" stroke-width="1.5" stroke-dasharray="4.5 5 1.5 5.7"/>
<line x1="389.70" y1="338.34" x2="394.90" y2="338.34" stroke="#0a9a80" stroke-width="1.6"/>
<line x1="389.70" y1="357.89" x2="394.90" y2="357.89" stroke="#0a9a80" stroke-width="1.6"/>
<line x1="572.30" y1="494.82" x2="572.30" y2="524.46" stroke="#0a9a80" stroke-width="1.5" stroke-dasharray="4.5 5 1.5 5.7"/>
<line x1="569.70" y1="494.82" x2="574.90" y2="494.82" stroke="#0a9a80" stroke-width="1.6"/>
<line x1="569.70" y1="524.46" x2="574.90" y2="524.46" stroke="#0a9a80" stroke-width="1.6"/>
<circle cx="110.70" cy="312.87" r="1.6" fill="#0a9a80"/>
<circle cx="123.20" cy="304.58" r="1.6" fill="#0a9a80"/>
<circle cx="134.40" cy="268.26" r="1.6" fill="#0a9a80"/>
<circle cx="145.80" cy="230.79" r="1.6" fill="#0a9a80"/>
<circle cx="159.60" cy="230.13" r="1.6" fill="#0a9a80"/>
<circle cx="173.60" cy="226.74" r="1.6" fill="#0a9a80"/>
<circle cx="190.40" cy="227.18" r="1.6" fill="#0a9a80"/>
<circle cx="208.70" cy="226.65" r="1.6" fill="#0a9a80"/>
<circle cx="228.70" cy="257.70" r="1.6" fill="#0a9a80"/>
<circle cx="253.30" cy="249.64" r="1.6" fill="#0a9a80"/>
<circle cx="281.00" cy="266.60" r="1.6" fill="#0a9a80"/>
<circle cx="312.80" cy="290.80" r="1.6" fill="#0a9a80"/>
<circle cx="350.00" cy="323.93" r="1.6" fill="#0a9a80"/>
<circle cx="392.30" cy="347.33" r="1.6" fill="#0a9a80"/>
<circle cx="572.30" cy="507.84" r="1.6" fill="#0a9a80"/>
</g>
<rect x="148.05" y="442.75" width="10.5" height="10.5" fill="#000"/>
<line x1="129" y1="474" x2="177" y2="474" stroke="#a00020" stroke-width="1.5" />
<path d="M147.50 479.10 L158.90 479.10 L153.20 468.90 Z" fill="none" stroke="#a00020" stroke-width="1.8" stroke-linejoin="miter"/>
<line x1="129" y1="500" x2="177" y2="500" stroke="#b3004c" stroke-width="1.5" stroke-dasharray="4.6 4"/>
<path d="M147.95 505.00 L158.45 505.00 L153.20 495.00 Z" fill="#b3004c"/>
<line x1="129" y1="526" x2="177" y2="526" stroke="#b5174a" stroke-width="1.5" stroke-dasharray="4.5 5 1.5 5.7"/>
<path d="M147.95 521.00 L158.45 521.00 L153.20 531.00 Z" fill="#b5174a"/>
<line x1="129" y1="552" x2="177" y2="552" stroke="#0a9a80" stroke-width="1.5" stroke-dasharray="4.5 5 1.5 5.7"/>
<circle cx="153.20" cy="552.00" r="1.6" fill="#0a9a80"/>
<line x1="104.00" y1="35.00" x2="104.00" y2="51.00" stroke="#000" stroke-width="1.7" />
<line x1="104.00" y1="635.00" x2="104.00" y2="619.00" stroke="#000" stroke-width="1.7" />
<line x1="104.00" y1="635.00" x2="104.00" y2="644.00" stroke="#000" stroke-width="1.7" />
<line x1="104.00" y1="956.00" x2="104.00" y2="947.00" stroke="#000" stroke-width="1.7" />
<line x1="135.30" y1="35.00" x2="135.30" y2="39.00" stroke="#000" stroke-width="1.7" />
<line x1="135.30" y1="635.00" x2="135.30" y2="631.00" stroke="#000" stroke-width="1.7" />
<line x1="135.30" y1="635.00" x2="135.30" y2="637.00" stroke="#000" stroke-width="1.7" />
<line x1="135.30" y1="956.00" x2="135.30" y2="954.00" stroke="#000" stroke-width="1.7" />
<line x1="166.60" y1="35.00" x2="166.60" y2="42.50" stroke="#000" stroke-width="1.7" />
<line x1="166.60" y1="635.00" x2="166.60" y2="627.50" stroke="#000" stroke-width="1.7" />
<line x1="166.60" y1="635.00" x2="166.60" y2="639.00" stroke="#000" stroke-width="1.7" />
<line x1="166.60" y1="956.00" x2="166.60" y2="952.00" stroke="#000" stroke-width="1.7" />
<line x1="197.90" y1="35.00" x2="197.90" y2="39.00" stroke="#000" stroke-width="1.7" />
<line x1="197.90" y1="635.00" x2="197.90" y2="631.00" stroke="#000" stroke-width="1.7" />
<line x1="197.90" y1="635.00" x2="197.90" y2="637.00" stroke="#000" stroke-width="1.7" />
<line x1="197.90" y1="956.00" x2="197.90" y2="954.00" stroke="#000" stroke-width="1.7" />
<line x1="229.20" y1="35.00" x2="229.20" y2="42.50" stroke="#000" stroke-width="1.7" />
<line x1="229.20" y1="635.00" x2="229.20" y2="627.50" stroke="#000" stroke-width="1.7" />
<line x1="229.20" y1="635.00" x2="229.20" y2="639.00" stroke="#000" stroke-width="1.7" />
<line x1="229.20" y1="956.00" x2="229.20" y2="952.00" stroke="#000" stroke-width="1.7" />
<line x1="260.50" y1="35.00" x2="260.50" y2="39.00" stroke="#000" stroke-width="1.7" />
<line x1="260.50" y1="635.00" x2="260.50" y2="631.00" stroke="#000" stroke-width="1.7" />
<line x1="260.50" y1="635.00" x2="260.50" y2="637.00" stroke="#000" stroke-width="1.7" />
<line x1="260.50" y1="956.00" x2="260.50" y2="954.00" stroke="#000" stroke-width="1.7" />
<line x1="291.80" y1="35.00" x2="291.80" y2="42.50" stroke="#000" stroke-width="1.7" />
<line x1="291.80" y1="635.00" x2="291.80" y2="627.50" stroke="#000" stroke-width="1.7" />
<line x1="291.80" y1="635.00" x2="291.80" y2="639.00" stroke="#000" stroke-width="1.7" />
<line x1="291.80" y1="956.00" x2="291.80" y2="952.00" stroke="#000" stroke-width="1.7" />
<line x1="323.10" y1="35.00" x2="323.10" y2="39.00" stroke="#000" stroke-width="1.7" />
<line x1="323.10" y1="635.00" x2="323.10" y2="631.00" stroke="#000" stroke-width="1.7" />
<line x1="323.10" y1="635.00" x2="323.10" y2="637.00" stroke="#000" stroke-width="1.7" />
<line x1="323.10" y1="956.00" x2="323.10" y2="954.00" stroke="#000" stroke-width="1.7" />
<line x1="354.40" y1="35.00" x2="354.40" y2="42.50" stroke="#000" stroke-width="1.7" />
<line x1="354.40" y1="635.00" x2="354.40" y2="627.50" stroke="#000" stroke-width="1.7" />
<line x1="354.40" y1="635.00" x2="354.40" y2="639.00" stroke="#000" stroke-width="1.7" />
<line x1="354.40" y1="956.00" x2="354.40" y2="952.00" stroke="#000" stroke-width="1.7" />
<line x1="385.70" y1="35.00" x2="385.70" y2="39.00" stroke="#000" stroke-width="1.7" />
<line x1="385.70" y1="635.00" x2="385.70" y2="631.00" stroke="#000" stroke-width="1.7" />
<line x1="385.70" y1="635.00" x2="385.70" y2="637.00" stroke="#000" stroke-width="1.7" />
<line x1="385.70" y1="956.00" x2="385.70" y2="954.00" stroke="#000" stroke-width="1.7" />
<line x1="417.00" y1="35.00" x2="417.00" y2="51.00" stroke="#000" stroke-width="1.7" />
<line x1="417.00" y1="635.00" x2="417.00" y2="619.00" stroke="#000" stroke-width="1.7" />
<line x1="417.00" y1="635.00" x2="417.00" y2="644.00" stroke="#000" stroke-width="1.7" />
<line x1="417.00" y1="956.00" x2="417.00" y2="947.00" stroke="#000" stroke-width="1.7" />
<line x1="448.30" y1="35.00" x2="448.30" y2="39.00" stroke="#000" stroke-width="1.7" />
<line x1="448.30" y1="635.00" x2="448.30" y2="631.00" stroke="#000" stroke-width="1.7" />
<line x1="448.30" y1="635.00" x2="448.30" y2="637.00" stroke="#000" stroke-width="1.7" />
<line x1="448.30" y1="956.00" x2="448.30" y2="954.00" stroke="#000" stroke-width="1.7" />
<line x1="479.60" y1="35.00" x2="479.60" y2="42.50" stroke="#000" stroke-width="1.7" />
<line x1="479.60" y1="635.00" x2="479.60" y2="627.50" stroke="#000" stroke-width="1.7" />
<line x1="479.60" y1="635.00" x2="479.60" y2="639.00" stroke="#000" stroke-width="1.7" />
<line x1="479.60" y1="956.00" x2="479.60" y2="952.00" stroke="#000" stroke-width="1.7" />
<line x1="510.90" y1="35.00" x2="510.90" y2="39.00" stroke="#000" stroke-width="1.7" />
<line x1="510.90" y1="635.00" x2="510.90" y2="631.00" stroke="#000" stroke-width="1.7" />
<line x1="510.90" y1="635.00" x2="510.90" y2="637.00" stroke="#000" stroke-width="1.7" />
<line x1="510.90" y1="956.00" x2="510.90" y2="954.00" stroke="#000" stroke-width="1.7" />
<line x1="542.20" y1="35.00" x2="542.20" y2="42.50" stroke="#000" stroke-width="1.7" />
<line x1="542.20" y1="635.00" x2="542.20" y2="627.50" stroke="#000" stroke-width="1.7" />
<line x1="542.20" y1="635.00" x2="542.20" y2="639.00" stroke="#000" stroke-width="1.7" />
<line x1="542.20" y1="956.00" x2="542.20" y2="952.00" stroke="#000" stroke-width="1.7" />
<line x1="573.50" y1="35.00" x2="573.50" y2="39.00" stroke="#000" stroke-width="1.7" />
<line x1="573.50" y1="635.00" x2="573.50" y2="631.00" stroke="#000" stroke-width="1.7" />
<line x1="573.50" y1="635.00" x2="573.50" y2="637.00" stroke="#000" stroke-width="1.7" />
<line x1="573.50" y1="956.00" x2="573.50" y2="954.00" stroke="#000" stroke-width="1.7" />
<line x1="604.80" y1="35.00" x2="604.80" y2="42.50" stroke="#000" stroke-width="1.7" />
<line x1="604.80" y1="635.00" x2="604.80" y2="627.50" stroke="#000" stroke-width="1.7" />
<line x1="604.80" y1="635.00" x2="604.80" y2="639.00" stroke="#000" stroke-width="1.7" />
<line x1="604.80" y1="956.00" x2="604.80" y2="952.00" stroke="#000" stroke-width="1.7" />
<line x1="636.10" y1="35.00" x2="636.10" y2="39.00" stroke="#000" stroke-width="1.7" />
<line x1="636.10" y1="635.00" x2="636.10" y2="631.00" stroke="#000" stroke-width="1.7" />
<line x1="636.10" y1="635.00" x2="636.10" y2="637.00" stroke="#000" stroke-width="1.7" />
<line x1="636.10" y1="956.00" x2="636.10" y2="954.00" stroke="#000" stroke-width="1.7" />
<line x1="667.40" y1="35.00" x2="667.40" y2="42.50" stroke="#000" stroke-width="1.7" />
<line x1="667.40" y1="635.00" x2="667.40" y2="627.50" stroke="#000" stroke-width="1.7" />
<line x1="667.40" y1="635.00" x2="667.40" y2="639.00" stroke="#000" stroke-width="1.7" />
<line x1="667.40" y1="956.00" x2="667.40" y2="952.00" stroke="#000" stroke-width="1.7" />
<line x1="698.70" y1="35.00" x2="698.70" y2="39.00" stroke="#000" stroke-width="1.7" />
<line x1="698.70" y1="635.00" x2="698.70" y2="631.00" stroke="#000" stroke-width="1.7" />
<line x1="698.70" y1="635.00" x2="698.70" y2="637.00" stroke="#000" stroke-width="1.7" />
<line x1="698.70" y1="956.00" x2="698.70" y2="954.00" stroke="#000" stroke-width="1.7" />
<line x1="730.00" y1="35.00" x2="730.00" y2="51.00" stroke="#000" stroke-width="1.7" />
<line x1="730.00" y1="635.00" x2="730.00" y2="619.00" stroke="#000" stroke-width="1.7" />
<line x1="730.00" y1="635.00" x2="730.00" y2="644.00" stroke="#000" stroke-width="1.7" />
<line x1="730.00" y1="956.00" x2="730.00" y2="947.00" stroke="#000" stroke-width="1.7" />
<line x1="91.00" y1="628.53" x2="102.00" y2="628.53" stroke="#000" stroke-width="1.3" />
<line x1="742.00" y1="628.53" x2="731.00" y2="628.53" stroke="#000" stroke-width="1.3" />
<line x1="91.00" y1="617.49" x2="102.00" y2="617.49" stroke="#000" stroke-width="1.3" />
<line x1="742.00" y1="617.49" x2="731.00" y2="617.49" stroke="#000" stroke-width="1.3" />
<line x1="91.00" y1="608.16" x2="102.00" y2="608.16" stroke="#000" stroke-width="1.3" />
<line x1="742.00" y1="608.16" x2="731.00" y2="608.16" stroke="#000" stroke-width="1.3" />
<line x1="91.00" y1="600.07" x2="102.00" y2="600.07" stroke="#000" stroke-width="1.3" />
<line x1="742.00" y1="600.07" x2="731.00" y2="600.07" stroke="#000" stroke-width="1.3" />
<line x1="91.00" y1="592.94" x2="102.00" y2="592.94" stroke="#000" stroke-width="1.3" />
<line x1="742.00" y1="592.94" x2="731.00" y2="592.94" stroke="#000" stroke-width="1.3" />
<line x1="91.00" y1="586.56" x2="113.00" y2="586.56" stroke="#000" stroke-width="1.3" />
<line x1="742.00" y1="586.56" x2="720.00" y2="586.56" stroke="#000" stroke-width="1.3" />
<line x1="91.00" y1="544.59" x2="102.00" y2="544.59" stroke="#000" stroke-width="1.3" />
<line x1="742.00" y1="544.59" x2="731.00" y2="544.59" stroke="#000" stroke-width="1.3" />
<line x1="91.00" y1="520.03" x2="102.00" y2="520.03" stroke="#000" stroke-width="1.3" />
<line x1="742.00" y1="520.03" x2="731.00" y2="520.03" stroke="#000" stroke-width="1.3" />
<line x1="91.00" y1="502.61" x2="102.00" y2="502.61" stroke="#000" stroke-width="1.3" />
<line x1="742.00" y1="502.61" x2="731.00" y2="502.61" stroke="#000" stroke-width="1.3" />
<line x1="91.00" y1="489.10" x2="102.00" y2="489.10" stroke="#000" stroke-width="1.3" />
<line x1="742.00" y1="489.10" x2="731.00" y2="489.10" stroke="#000" stroke-width="1.3" />
<line x1="91.00" y1="478.06" x2="102.00" y2="478.06" stroke="#000" stroke-width="1.3" />
<line x1="742.00" y1="478.06" x2="731.00" y2="478.06" stroke="#000" stroke-width="1.3" />
<line x1="91.00" y1="468.73" x2="102.00" y2="468.73" stroke="#000" stroke-width="1.3" />
<line x1="742.00" y1="468.73" x2="731.00" y2="468.73" stroke="#000" stroke-width="1.3" />
<line x1="91.00" y1="460.64" x2="102.00" y2="460.64" stroke="#000" stroke-width="1.3" />
<line x1="742.00" y1="460.64" x2="731.00" y2="460.64" stroke="#000" stroke-width="1.3" />
<line x1="91.00" y1="453.51" x2="102.00" y2="453.51" stroke="#000" stroke-width="1.3" />
<line x1="742.00" y1="453.51" x2="731.00" y2="453.51" stroke="#000" stroke-width="1.3" />
<line x1="91.00" y1="447.13" x2="113.00" y2="447.13" stroke="#000" stroke-width="1.3" />
<line x1="742.00" y1="447.13" x2="720.00" y2="447.13" stroke="#000" stroke-width="1.3" />
<line x1="91.00" y1="405.16" x2="102.00" y2="405.16" stroke="#000" stroke-width="1.3" />
<line x1="742.00" y1="405.16" x2="731.00" y2="405.16" stroke="#000" stroke-width="1.3" />
<line x1="91.00" y1="380.60" x2="102.00" y2="380.60" stroke="#000" stroke-width="1.3" />
<line x1="742.00" y1="380.60" x2="731.00" y2="380.60" stroke="#000" stroke-width="1.3" />
<line x1="91.00" y1="363.18" x2="102.00" y2="363.18" stroke="#000" stroke-width="1.3" />
<line x1="742.00" y1="363.18" x2="731.00" y2="363.18" stroke="#000" stroke-width="1.3" />
<line x1="91.00" y1="349.67" x2="102.00" y2="349.67" stroke="#000" stroke-width="1.3" />
<line x1="742.00" y1="349.67" x2="731.00" y2="349.67" stroke="#000" stroke-width="1.3" />
<line x1="91.00" y1="338.63" x2="102.00" y2="338.63" stroke="#000" stroke-width="1.3" />
<line x1="742.00" y1="338.63" x2="731.00" y2="338.63" stroke="#000" stroke-width="1.3" />
<line x1="91.00" y1="329.30" x2="102.00" y2="329.30" stroke="#000" stroke-width="1.3" />
<line x1="742.00" y1="329.30" x2="731.00" y2="329.30" stroke="#000" stroke-width="1.3" />
<line x1="91.00" y1="321.21" x2="102.00" y2="321.21" stroke="#000" stroke-width="1.3" />
<line x1="742.00" y1="321.21" x2="731.00" y2="321.21" stroke="#000" stroke-width="1.3" />
<line x1="91.00" y1="314.08" x2="102.00" y2="314.08" stroke="#000" stroke-width="1.3" />
<line x1="742.00" y1="314.08" x2="731.00" y2="314.08" stroke="#000" stroke-width="1.3" />
<line x1="91.00" y1="307.70" x2="113.00" y2="307.70" stroke="#000" stroke-width="1.3" />
<line x1="742.00" y1="307.70" x2="720.00" y2="307.70" stroke="#000" stroke-width="1.3" />
<line x1="91.00" y1="265.73" x2="102.00" y2="265.73" stroke="#000" stroke-width="1.3" />
<line x1="742.00" y1="265.73" x2="731.00" y2="265.73" stroke="#000" stroke-width="1.3" />
<line x1="91.00" y1="241.17" x2="102.00" y2="241.17" stroke="#000" stroke-width="1.3" />
<line x1="742.00" y1="241.17" x2="731.00" y2="241.17" stroke="#000" stroke-width="1.3" />
<line x1="91.00" y1="223.75" x2="102.00" y2="223.75" stroke="#000" stroke-width="1.3" />
<line x1="742.00" y1="223.75" x2="731.00" y2="223.75" stroke="#000" stroke-width="1.3" />
<line x1="91.00" y1="210.24" x2="102.00" y2="210.24" stroke="#000" stroke-width="1.3" />
<line x1="742.00" y1="210.24" x2="731.00" y2="210.24" stroke="#000" stroke-width="1.3" />
<line x1="91.00" y1="199.20" x2="102.00" y2="199.20" stroke="#000" stroke-width="1.3" />
<line x1="742.00" y1="199.20" x2="731.00" y2="199.20" stroke="#000" stroke-width="1.3" />
<line x1="91.00" y1="189.87" x2="102.00" y2="189.87" stroke="#000" stroke-width="1.3" />
<line x1="742.00" y1="189.87" x2="731.00" y2="189.87" stroke="#000" stroke-width="1.3" />
<line x1="91.00" y1="181.78" x2="102.00" y2="181.78" stroke="#000" stroke-width="1.3" />
<line x1="742.00" y1="181.78" x2="731.00" y2="181.78" stroke="#000" stroke-width="1.3" />
<line x1="91.00" y1="174.65" x2="102.00" y2="174.65" stroke="#000" stroke-width="1.3" />
<line x1="742.00" y1="174.65" x2="731.00" y2="174.65" stroke="#000" stroke-width="1.3" />
<line x1="91.00" y1="168.27" x2="113.00" y2="168.27" stroke="#000" stroke-width="1.3" />
<line x1="742.00" y1="168.27" x2="720.00" y2="168.27" stroke="#000" stroke-width="1.3" />
<line x1="91.00" y1="126.30" x2="102.00" y2="126.30" stroke="#000" stroke-width="1.3" />
<line x1="742.00" y1="126.30" x2="731.00" y2="126.30" stroke="#000" stroke-width="1.3" />
<line x1="91.00" y1="101.74" x2="102.00" y2="101.74" stroke="#000" stroke-width="1.3" />
<line x1="742.00" y1="101.74" x2="731.00" y2="101.74" stroke="#000" stroke-width="1.3" />
<line x1="91.00" y1="84.32" x2="102.00" y2="84.32" stroke="#000" stroke-width="1.3" />
<line x1="742.00" y1="84.32" x2="731.00" y2="84.32" stroke="#000" stroke-width="1.3" />
<line x1="91.00" y1="70.81" x2="102.00" y2="70.81" stroke="#000" stroke-width="1.3" />
<line x1="742.00" y1="70.81" x2="731.00" y2="70.81" stroke="#000" stroke-width="1.3" />
<line x1="91.00" y1="59.77" x2="102.00" y2="59.77" stroke="#000" stroke-width="1.3" />
<line x1="742.00" y1="59.77" x2="731.00" y2="59.77" stroke="#000" stroke-width="1.3" />
<line x1="91.00" y1="50.44" x2="102.00" y2="50.44" stroke="#000" stroke-width="1.3" />
<line x1="742.00" y1="50.44" x2="731.00" y2="50.44" stroke="#000" stroke-width="1.3" />
<line x1="91.00" y1="42.35" x2="102.00" y2="42.35" stroke="#000" stroke-width="1.3" />
<line x1="742.00" y1="42.35" x2="731.00" y2="42.35" stroke="#000" stroke-width="1.3" />
<line x1="91.00" y1="35.22" x2="102.00" y2="35.22" stroke="#000" stroke-width="1.3" />
<line x1="742.00" y1="35.22" x2="731.00" y2="35.22" stroke="#000" stroke-width="1.3" />
<line x1="91.00" y1="642.66" x2="101.00" y2="642.66" stroke="#000" stroke-width="1.3" />
<line x1="742.00" y1="642.66" x2="732.00" y2="642.66" stroke="#000" stroke-width="1.3" />
<line x1="91.00" y1="650.09" x2="101.00" y2="650.09" stroke="#000" stroke-width="1.3" />
<line x1="742.00" y1="650.09" x2="732.00" y2="650.09" stroke="#000" stroke-width="1.3" />
<line x1="91.00" y1="657.85" x2="101.00" y2="657.85" stroke="#000" stroke-width="1.3" />
<line x1="742.00" y1="657.85" x2="732.00" y2="657.85" stroke="#000" stroke-width="1.3" />
<line x1="91.00" y1="665.97" x2="101.00" y2="665.97" stroke="#000" stroke-width="1.3" />
<line x1="742.00" y1="665.97" x2="732.00" y2="665.97" stroke="#000" stroke-width="1.3" />
<line x1="91.00" y1="674.49" x2="105.00" y2="674.49" stroke="#000" stroke-width="1.3" />
<line x1="742.00" y1="674.49" x2="728.00" y2="674.49" stroke="#000" stroke-width="1.3" />
<line x1="91.00" y1="683.44" x2="101.00" y2="683.44" stroke="#000" stroke-width="1.3" />
<line x1="742.00" y1="683.44" x2="732.00" y2="683.44" stroke="#000" stroke-width="1.3" />
<line x1="91.00" y1="692.88" x2="101.00" y2="692.88" stroke="#000" stroke-width="1.3" />
<line x1="742.00" y1="692.88" x2="732.00" y2="692.88" stroke="#000" stroke-width="1.3" />
<line x1="91.00" y1="702.86" x2="101.00" y2="702.86" stroke="#000" stroke-width="1.3" />
<line x1="742.00" y1="702.86" x2="732.00" y2="702.86" stroke="#000" stroke-width="1.3" />
<line x1="91.00" y1="713.44" x2="101.00" y2="713.44" stroke="#000" stroke-width="1.3" />
<line x1="742.00" y1="713.44" x2="732.00" y2="713.44" stroke="#000" stroke-width="1.3" />
<line x1="91.00" y1="724.71" x2="105.00" y2="724.71" stroke="#000" stroke-width="1.3" />
<line x1="742.00" y1="724.71" x2="728.00" y2="724.71" stroke="#000" stroke-width="1.3" />
<line x1="91.00" y1="736.76" x2="101.00" y2="736.76" stroke="#000" stroke-width="1.3" />
<line x1="742.00" y1="736.76" x2="732.00" y2="736.76" stroke="#000" stroke-width="1.3" />
<line x1="91.00" y1="749.69" x2="101.00" y2="749.69" stroke="#000" stroke-width="1.3" />
<line x1="742.00" y1="749.69" x2="732.00" y2="749.69" stroke="#000" stroke-width="1.3" />
<line x1="91.00" y1="763.67" x2="101.00" y2="763.67" stroke="#000" stroke-width="1.3" />
<line x1="742.00" y1="763.67" x2="732.00" y2="763.67" stroke="#000" stroke-width="1.3" />
<line x1="91.00" y1="778.86" x2="101.00" y2="778.86" stroke="#000" stroke-width="1.3" />
<line x1="742.00" y1="778.86" x2="732.00" y2="778.86" stroke="#000" stroke-width="1.3" />
<line x1="91.00" y1="795.50" x2="105.00" y2="795.50" stroke="#000" stroke-width="1.3" />
<line x1="742.00" y1="795.50" x2="728.00" y2="795.50" stroke="#000" stroke-width="1.3" />
<line x1="91.00" y1="813.89" x2="101.00" y2="813.89" stroke="#000" stroke-width="1.3" />
<line x1="742.00" y1="813.89" x2="732.00" y2="813.89" stroke="#000" stroke-width="1.3" />
<line x1="91.00" y1="834.46" x2="101.00" y2="834.46" stroke="#000" stroke-width="1.3" />
<line x1="742.00" y1="834.46" x2="732.00" y2="834.46" stroke="#000" stroke-width="1.3" />
<line x1="91.00" y1="857.77" x2="101.00" y2="857.77" stroke="#000" stroke-width="1.3" />
<line x1="742.00" y1="857.77" x2="732.00" y2="857.77" stroke="#000" stroke-width="1.3" />
<line x1="91.00" y1="884.68" x2="101.00" y2="884.68" stroke="#000" stroke-width="1.3" />
<line x1="742.00" y1="884.68" x2="732.00" y2="884.68" stroke="#000" stroke-width="1.3" />
<line x1="91.00" y1="916.51" x2="105.00" y2="916.51" stroke="#000" stroke-width="1.3" />
<line x1="742.00" y1="916.51" x2="728.00" y2="916.51" stroke="#000" stroke-width="1.3" />
<path d="M91 35 H742 V956 H91 Z M91 635 H742" fill="none" stroke="#000" stroke-width="2"/>
<g transform="translate(102.34,29.30) scale(1,1.04)" fill="#000"><path d="M9.39 -16.79 V0.00 H6.95 V-11.05 L2.81 -11.79 V-13.13 Q6.22 -13.74 8.30 -16.79 Z"/><text x="13.57" y="0" font-size="24.40">3000 GeV pp</text></g>
<g transform="translate(669.63,28.90) scale(1,1.04)" fill="#000"><text x="0.00" y="0" font-size="24.14">Z+Jet</text></g>
<g transform="translate(122.87,86.80) scale(1,1.04)" fill="#000"><text x="0.00" y="0" font-size="24.21">CMS, </text><path d="M76.58 -16.66 V0.00 H74.16 V-10.97 L70.04 -11.69 V-13.03 Q73.43 -13.63 75.49 -16.66 Z"/><text x="80.72" y="0" font-size="24.21">3 TeV, AK4 jets, Z+jet region, 50 &lt;p</text></g>
<g transform="translate(581.13,71.80) scale(1,1.0)" fill="#000"><text x="0.00" y="0" font-size="16.40">{jet</text></g>
<g transform="translate(581.04,99.40) scale(1,1.0)" fill="#000"><text x="0.00" y="0" font-size="16.00">T</text></g>
<g transform="translate(603.40,86.80) scale(1,1.04)" fill="#000"><text x="0.00" y="0" font-size="23.85">}&lt; 65 GeV</text></g>
<g transform="translate(67.12,177.30) scale(1,1.04)" fill="#000"><text x="0.00" y="0" font-size="22.00">0</text></g>
<path d="M62.10 161.55 V177.30 H59.90 V166.72 L56.16 166.06 V164.85 Q59.24 164.30 61.11 161.55 Z" fill="#000"/>
<path d="M78.90 299.85 V315.60 H76.70 V305.02 L72.96 304.36 V303.15 Q76.04 302.60 77.91 299.85 Z" fill="#000"/>
<g transform="translate(53.32,457.10) scale(1,1.04)" fill="#000"><text x="0.00" y="0" font-size="22.00">0</text></g>
<path d="M48.30 441.35 V457.10 H46.10 V446.52 L42.36 445.86 V444.65 Q45.44 444.10 47.31 441.35 Z" fill="#000"/>
<rect x="65.1" y="443.4" width="7.6" height="1.4" fill="#000"/>
<path d="M78.90 437.30 V447.90 H77.42 V440.78 L74.90 440.34 V439.52 Q76.98 439.15 78.23 437.30 Z" fill="#000"/>
<g transform="translate(49.92,597.10) scale(1,1.04)" fill="#000"><text x="0.00" y="0" font-size="22.00">0</text></g>
<path d="M44.90 581.35 V597.10 H42.70 V586.52 L38.96 585.86 V584.65 Q42.04 584.10 43.91 581.35 Z" fill="#000"/>
<rect x="62.1" y="583.4" width="7.6" height="1.4" fill="#000"/>
<g transform="translate(70.91,587.90) scale(1,1.04)" fill="#000"><text x="0.00" y="0" font-size="15.00">2</text></g>
<g transform="translate(63.86,682.70) scale(1,1.04)" fill="#000"><text x="0.00" y="0" font-size="24.00">2</text></g>
<g transform="translate(43.84,925.20) scale(1,1.04)" fill="#000"><text x="0.00" y="0" font-size="24.00">0.5</text></g>
<path d="M74.30 787.97 V804.80 H71.95 V793.50 L67.95 792.79 V791.50 Q71.24 790.91 73.24 787.97 Z" fill="#000"/>
<g transform="translate(747.49,682.70) scale(1,1.04)" fill="#000"><text x="0.00" y="0" font-size="24.00">2</text></g>
<g transform="translate(747.56,925.20) scale(1,1.04)" fill="#000"><text x="0.00" y="0" font-size="24.00">0.5</text></g>
<path d="M756.60 787.97 V804.80 H754.25 V793.50 L750.25 792.79 V791.50 Q753.55 790.91 755.54 787.97 Z" fill="#000"/>
<g transform="translate(97.09,978.30) scale(1,1.04)" fill="#000"><text x="0.00" y="0" font-size="23.20">0</text></g>
<g transform="translate(401.42,978.30) scale(1,1.04)" fill="#000"><text x="0.00" y="0" font-size="23.20">0.5</text></g>
<path d="M734.20 961.47 V978.30 H731.85 V967.00 L727.86 966.29 V965.00 Q731.15 964.41 733.14 961.47 Z" fill="#000"/>
<g transform="translate(519.84,1006.80) scale(1,1.04)" fill="#000"><text x="0.00" y="0" font-size="25.18">width (charged-only)</text></g>
<g transform="translate(36.00,847.08) rotate(-90) scale(1,1.04)" fill="#000"><text x="0.00" y="0" font-size="18.01">Ratio to CMS</text></g>
<g transform="translate(760.00,254.55) rotate(-90) scale(1,1.04)" fill="#808080"><text x="0.00" y="0" font-size="18.89">Rivet 4.</text><path d="M71.30 -12.99 V0.00 H69.41 V-8.56 L66.20 -9.12 V-10.16 Q68.84 -10.63 70.45 -12.99 Z"/><text x="74.53" y="0" font-size="18.89">.0, ≥ </text><path d="M123.66 -12.99 V0.00 H121.77 V-8.56 L118.56 -9.12 V-10.16 Q121.20 -10.63 122.81 -12.99 Z"/><text x="126.89" y="0" font-size="18.89">00k events</text></g>
<g transform="translate(761.30,629.77) rotate(-90) scale(1,1.04)" fill="#808080"><text x="0.00" y="0" font-size="19.12">mcplots.cern.ch [arXiv:</text><path d="M200.78 -13.16 V0.00 H198.87 V-8.66 L195.62 -9.24 V-10.29 Q198.30 -10.77 199.92 -13.16 Z"/><text x="204.06" y="0" font-size="19.12">306.3436]</text></g>
<g transform="translate(333.22,603.80) scale(1,1.04)" fill="#a0a0a0"><text x="0.00" y="0" font-size="15.87">(CMS_202</text><path d="M81.96 -10.92 V0.00 H80.37 V-7.19 L77.67 -7.66 V-8.54 Q79.89 -8.93 81.24 -10.92 Z"/><text x="84.67" y="0" font-size="15.87">_I</text><path d="M104.02 -10.92 V0.00 H102.43 V-7.19 L99.73 -7.66 V-8.54 Q101.95 -8.93 103.30 -10.92 Z"/><text x="106.73" y="0" font-size="15.87">920</text><path d="M139.32 -10.92 V0.00 H137.73 V-7.19 L135.03 -7.66 V-8.54 Q137.25 -8.93 138.60 -10.92 Z"/><text x="142.03" y="0" font-size="15.87">87)</text></g>
<g transform="translate(187.45,454.10) scale(1,1.04)" fill="#000"><text x="0.00" y="0" font-size="18.68">CMS</text></g>
<g transform="translate(186.85,480.10) scale(1,1.04)" fill="#000"><text x="0.00" y="0" font-size="18.94">Pythia 6.428 370</text></g>
<g transform="translate(186.84,506.10) scale(1,1.04)" fill="#000"><text x="0.00" y="0" font-size="18.97">Pythia 6.428 37</text><path d="M139.14 -13.05 V0.00 H137.24 V-8.59 L134.01 -9.16 V-10.21 Q136.67 -10.68 138.28 -13.05 Z"/></g>
<g transform="translate(186.84,532.10) scale(1,1.04)" fill="#000"><text x="0.00" y="0" font-size="18.97">Pythia 6.428 372</text></g>
<g transform="translate(186.84,558.10) scale(1,1.04)" fill="#000"><text x="0.00" y="0" font-size="18.96">Pythia 6.428 376</text></g>
<g transform="translate(28.30,266.91) rotate(-90) scale(1,1.04)" fill="#000"><text x="0.00" y="0" font-size="25.00">#</text></g>
<line x1="20.50" y1="141.60" x2="20.50" y2="253.10" stroke="#000" stroke-width="2" />
<g transform="translate(17.8,192.9) rotate(-90)">
<path d="M0.00 -15.39 V0.00 H-2.15 V-10.34 L-5.81 -10.99 V-12.17 Q-2.79 -12.71 -0.97 -15.39 Z" fill="#000"/>
</g>
<g transform="translate(42.40,245.87) rotate(-90) scale(1,1.04)" fill="#000"><text x="0.00" y="0" font-size="23.00">d</text></g>
<g transform="translate(42.40,227.59) rotate(-90) scale(1,1.04)" fill="#000"><text x="0.00" y="0" font-size="23.00">N</text></g>
<g transform="translate(43.50,203.00) rotate(-90) scale(1,1.04)" fill="#000"><text x="0.00" y="0" font-size="26.00">/</text></g>
<g transform="translate(42.40,181.57) rotate(-90) scale(1,1.04)" fill="#000"><text x="0.00" y="0" font-size="23.00">d</text></g>
<g transform="translate(42.40,161.48) rotate(-90) scale(1,1.04)" fill="#000"><text x="0.00" y="0" font-size="23.00">p</text></g>
<g transform="translate(56.00,150.86) rotate(-90) scale(1,1.0)" fill="#000"><text x="0.00" y="0" font-size="16.00">T</text></g>
<g transform="translate(28.30,139.51) rotate(-90) scale(1,1.04)" fill="#000"><text x="0.00" y="0" font-size="25.00">#</text></g>
<line x1="21.10" y1="35.00" x2="21.10" y2="127.60" stroke="#000" stroke-width="2" />
<g transform="translate(17.60,96.37) rotate(-90) scale(1,1.04)" fill="#000"><text x="0.00" y="0" font-size="23.00">d</text></g>
<g transform="translate(5.30,83.85) rotate(-90) scale(1,1.0)" fill="#000"><text x="0.00" y="0" font-size="15.00">2</text></g>
<g transform="translate(17.00,74.99) rotate(-90) scale(1,1.04)" fill="#000"><text x="0.00" y="0" font-size="23.00">N</text></g>
<g transform="translate(43.40,120.97) rotate(-90) scale(1,1.04)" fill="#000"><text x="0.00" y="0" font-size="23.00">d</text></g>
<g transform="translate(43.40,100.98) rotate(-90) scale(1,1.04)" fill="#000"><text x="0.00" y="0" font-size="23.00">p</text></g>
<g transform="translate(56.90,88.16) rotate(-90) scale(1,1.0)" fill="#000"><text x="0.00" y="0" font-size="16.00">T</text></g>
<g transform="translate(43.40,65.27) rotate(-90) scale(1,1.04)" fill="#000"><text x="0.00" y="0" font-size="23.00">d</text></g>
<path d="M28.2 47.4 C24.6 45.6, 25.2 42.6, 32.6 42.1 L39.2 40.2 C43.2 39.0, 42.4 36.4, 40.0 35.7 M32.6 42.2 L42.6 47.3" fill="none" stroke="#000" stroke-width="1.9" stroke-linecap="butt"/>
</svg></body></html>
